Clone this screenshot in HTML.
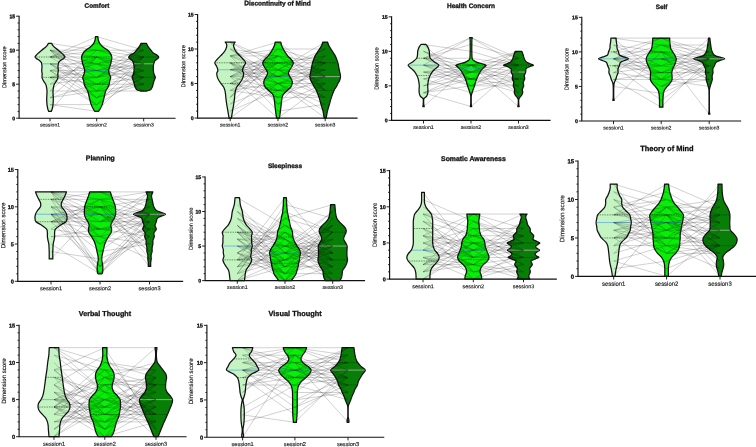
<!DOCTYPE html>
<html lang="en">
<head>
<meta charset="utf-8">
<title>Dimension scores by session</title>
<style>
html,body{margin:0;padding:0;background:#fff;}
body{width:756px;height:447px;overflow:hidden;font-family:"Liberation Sans",sans-serif;}
svg{display:block;}
.b{font-weight:bold;stroke:#111;stroke-width:.3px;}
.r{fill:#111;stroke:#111;stroke-width:.13px;}
</style>
</head>
<body>
<svg width="756" height="447" viewBox="0 0 756 447" font-family="'Liberation Sans', sans-serif" fill="#111">
<rect width="756" height="447" fill="#fff"/>
<g>
<path d="M48.8 111.4C48.65 111.06 48.2 110.49 47.9 109.36C47.6 108.23 47.2 106.19 47 104.6C46.8 103.01 46.72 101.54 46.7 99.84C46.68 98.14 46.85 95.87 46.9 94.4C46.95 92.93 47.05 92.13 47 91C46.95 89.87 46.82 88.73 46.6 87.6C46.38 86.47 46.23 85.33 45.7 84.2C45.17 83.07 44.02 81.93 43.4 80.8C42.78 79.67 42.2 78.53 42 77.4C41.8 76.27 42.25 75.13 42.2 74C42.15 72.87 41.73 71.73 41.7 70.6C41.67 69.47 42 68.33 42 67.2C42 66.07 41.85 64.65 41.7 63.8C41.55 62.95 41.48 62.67 41.1 62.1C40.72 61.53 40.13 60.97 39.4 60.4C38.67 59.83 37.43 59.27 36.7 58.7C35.97 58.13 35.08 57.57 35 57C34.92 56.43 35.73 55.87 36.2 55.3C36.67 54.73 36.88 54.45 37.8 53.6C38.72 52.75 40.47 51.22 41.7 50.2C42.93 49.18 44.25 48.33 45.2 47.48C46.15 46.63 46.9 45.78 47.4 45.1C47.9 44.42 48.07 43.68 48.2 43.4L51.8 43.4C51.93 43.68 52.1 44.42 52.6 45.1C53.1 45.78 53.85 46.63 54.8 47.48C55.75 48.33 57.07 49.18 58.3 50.2C59.53 51.22 61.28 52.75 62.2 53.6C63.12 54.45 63.33 54.73 63.8 55.3C64.27 55.87 65.08 56.43 65 57C64.92 57.57 64.03 58.13 63.3 58.7C62.57 59.27 61.33 59.83 60.6 60.4C59.87 60.97 59.28 61.53 58.9 62.1C58.52 62.67 58.45 62.95 58.3 63.8C58.15 64.65 58 66.07 58 67.2C58 68.33 58.33 69.47 58.3 70.6C58.27 71.73 57.85 72.87 57.8 74C57.75 75.13 58.2 76.27 58 77.4C57.8 78.53 57.22 79.67 56.6 80.8C55.98 81.93 54.83 83.07 54.3 84.2C53.77 85.33 53.62 86.47 53.4 87.6C53.18 88.73 53.05 89.87 53 91C52.95 92.13 53.05 92.93 53.1 94.4C53.15 95.87 53.32 98.14 53.3 99.84C53.28 101.54 53.2 103.01 53 104.6C52.8 106.19 52.4 108.23 52.1 109.36C51.8 110.49 51.35 111.06 51.2 111.4Z" fill="#c3f4c1" stroke="#111" stroke-width="1.25" stroke-linejoin="round"/>
<path d="M94.9 111.4C94.7 111.12 94.32 110.83 93.7 109.7C93.08 108.57 91.92 106.58 91.2 104.6C90.48 102.62 89.98 100.07 89.4 97.8C88.82 95.53 88.32 92.7 87.7 91C87.08 89.3 86.28 88.73 85.7 87.6C85.12 86.47 84.53 85.33 84.2 84.2C83.87 83.07 83.95 81.93 83.7 80.8C83.45 79.67 82.63 78.53 82.7 77.4C82.77 76.27 83.77 75.13 84.1 74C84.43 72.87 84.73 71.73 84.7 70.6C84.67 69.47 84.23 68.33 83.9 67.2C83.57 66.07 83.02 64.93 82.7 63.8C82.38 62.67 82.18 61.53 82 60.4C81.82 59.27 81.45 58.13 81.6 57C81.75 55.87 82.22 54.73 82.9 53.6C83.58 52.47 84.4 51.33 85.7 50.2C87 49.07 89.37 47.93 90.7 46.8C92.03 45.67 92.97 44.53 93.7 43.4C94.43 42.27 94.8 41.13 95.1 40C95.4 38.87 95.43 37.17 95.5 36.6L97.9 36.6C97.97 37.17 98 38.87 98.3 40C98.6 41.13 98.97 42.27 99.7 43.4C100.43 44.53 101.37 45.67 102.7 46.8C104.03 47.93 106.4 49.07 107.7 50.2C109 51.33 109.82 52.47 110.5 53.6C111.18 54.73 111.65 55.87 111.8 57C111.95 58.13 111.58 59.27 111.4 60.4C111.22 61.53 111.02 62.67 110.7 63.8C110.38 64.93 109.83 66.07 109.5 67.2C109.17 68.33 108.73 69.47 108.7 70.6C108.67 71.73 108.97 72.87 109.3 74C109.63 75.13 110.63 76.27 110.7 77.4C110.77 78.53 109.95 79.67 109.7 80.8C109.45 81.93 109.53 83.07 109.2 84.2C108.87 85.33 108.28 86.47 107.7 87.6C107.12 88.73 106.32 89.3 105.7 91C105.08 92.7 104.58 95.53 104 97.8C103.42 100.07 102.92 102.62 102.2 104.6C101.48 106.58 100.32 108.57 99.7 109.7C99.08 110.83 98.7 111.12 98.5 111.4Z" fill="#08ee08" stroke="#111" stroke-width="1.25" stroke-linejoin="round"/>
<path d="M140.5 91C139.9 90.77 137.8 90.32 136.9 89.64C136 88.96 135.53 87.83 135.1 86.92C134.67 86.01 134.58 85.22 134.3 84.2C134.02 83.18 133.77 81.93 133.4 80.8C133.03 79.67 132.08 78.53 132.1 77.4C132.12 76.27 133.18 75.13 133.5 74C133.82 72.87 133.9 71.73 134 70.6C134.1 69.47 134.15 68.33 134.1 67.2C134.05 66.07 134.02 64.93 133.7 63.8C133.38 62.67 132.93 61.31 132.2 60.4C131.47 59.49 129.88 58.93 129.3 58.36C128.72 57.79 128.5 57.57 128.7 57C128.9 56.43 129.6 55.64 130.5 54.96C131.4 54.28 133.1 53.71 134.1 52.92C135.1 52.13 135.67 51.22 136.5 50.2C137.33 49.18 138.43 47.76 139.1 46.8C139.77 45.84 140.2 44.99 140.5 44.42C140.8 43.85 140.83 43.57 140.9 43.4L146.5 43.4C146.57 43.57 146.6 43.85 146.9 44.42C147.2 44.99 147.63 45.84 148.3 46.8C148.97 47.76 150.07 49.18 150.9 50.2C151.73 51.22 152.3 52.13 153.3 52.92C154.3 53.71 156 54.28 156.9 54.96C157.8 55.64 158.5 56.43 158.7 57C158.9 57.57 158.68 57.79 158.1 58.36C157.52 58.93 155.93 59.49 155.2 60.4C154.47 61.31 154.02 62.67 153.7 63.8C153.38 64.93 153.35 66.07 153.3 67.2C153.25 68.33 153.3 69.47 153.4 70.6C153.5 71.73 153.58 72.87 153.9 74C154.22 75.13 155.28 76.27 155.3 77.4C155.32 78.53 154.37 79.67 154 80.8C153.63 81.93 153.38 83.18 153.1 84.2C152.82 85.22 152.73 86.01 152.3 86.92C151.87 87.83 151.4 88.96 150.5 89.64C149.6 90.32 147.5 90.77 146.9 91Z" fill="#077f07" stroke="#111" stroke-width="1.25" stroke-linejoin="round"/>
<line x1="42.8" y1="77.4" x2="57.2" y2="77.4" stroke="#061406" stroke-width="0.6" stroke-dasharray="0.8 0.9"/>
<line x1="35.8" y1="57" x2="64.2" y2="57" stroke="#061406" stroke-width="0.6" stroke-dasharray="0.8 0.9"/>
<line x1="42.3" y1="63.8" x2="57.7" y2="63.8" stroke="#4d9fe0" stroke-width="0.65"/>
<line x1="85" y1="84.2" x2="108.4" y2="84.2" stroke="#061406" stroke-width="0.6" stroke-dasharray="0.8 0.9"/>
<line x1="82.4" y1="57" x2="111" y2="57" stroke="#061406" stroke-width="0.6" stroke-dasharray="0.8 0.9"/>
<line x1="85.3" y1="70.6" x2="108.1" y2="70.6" stroke="#35a8c0" stroke-width="0.65"/>
<line x1="132.9" y1="77.4" x2="154.5" y2="77.4" stroke="#061406" stroke-width="0.6" stroke-dasharray="0.8 0.9"/>
<line x1="129.5" y1="57" x2="157.9" y2="57" stroke="#061406" stroke-width="0.6" stroke-dasharray="0.8 0.9"/>
<line x1="134.3" y1="63.8" x2="153.1" y2="63.8" stroke="#b0b6b0" stroke-width="0.8"/>
<path d="M50 63.8L96.7 70.6M96.7 70.6L143.7 63.8M50 70.6L96.7 57M96.7 57L143.7 77.4M50 84.2L96.7 77.4M96.7 77.4L143.7 43.4M50 57L96.7 57M96.7 57L143.7 63.8M50 63.8L96.7 97.8M96.7 97.8L143.7 77.4M50 57L96.7 84.2M96.7 84.2L143.7 70.6M50 43.4L96.7 50.2M96.7 50.2L143.7 63.8M50 63.8L96.7 91M96.7 91L143.7 91M50 84.2L96.7 57M50 57L96.7 50.2M96.7 50.2L143.7 57M50 77.4L96.7 84.2M96.7 84.2L143.7 84.2M50 77.4L96.7 104.6M96.7 104.6L143.7 77.4M50 77.4L96.7 77.4M96.7 77.4L143.7 57M50 70.6L96.7 77.4M96.7 77.4L143.7 50.2M96.7 57L143.7 84.2M50 104.6L96.7 104.6M50 97.8L96.7 57M50 70.6L96.7 104.6M96.7 104.6L143.7 57M50 50.2L96.7 97.8M96.7 97.8L143.7 57M50 57L96.7 63.8M96.7 63.8L143.7 91M50 91L96.7 50.2M96.7 50.2L143.7 50.2M50 111.4L96.7 57M50 63.8L96.7 63.8M96.7 63.8L143.7 57M50 77.4L96.7 70.6M96.7 70.6L143.7 84.2M96.7 77.4L143.7 70.6M50 50.2L96.7 50.2M50 50.2L96.7 77.4M96.7 77.4L143.7 63.8M50 70.6L96.7 70.6M96.7 70.6L143.7 57M50 63.8L96.7 84.2M50 50.2L96.7 57M96.7 57L143.7 70.6M96.7 63.8L143.7 50.2M50 57L96.7 36.6M96.7 36.6L143.7 50.2M96.7 63.8L143.7 70.6M50 91L96.7 91M96.7 91L143.7 43.4M50 50.2L96.7 91M96.7 91L143.7 84.2M96.7 84.2L143.7 57M50 97.8L96.7 91M96.7 91L143.7 70.6M50 77.4L96.7 63.8M50 57L96.7 43.4M96.7 43.4L143.7 57M50 104.6L96.7 111.4M96.7 111.4L143.7 63.8M50 70.6L96.7 97.8M96.7 97.8L143.7 84.2M50 50.2L96.7 63.8M96.7 63.8L143.7 77.4M50 97.8L96.7 84.2M50 50.2L96.7 70.6M96.7 70.6L143.7 77.4M96.7 84.2L143.7 77.4" fill="none" stroke="#000" stroke-opacity="0.62" stroke-width="0.3"/>
<path d="M19.1 16.2V118.2H175" fill="none" stroke="#111" stroke-width="1.15" stroke-linecap="square"/>
<path d="M19.1 118.2h-3M19.1 111.4h-1.5M19.1 104.6h-1.5M19.1 97.8h-1.5M19.1 91h-1.5M19.1 84.2h-3M19.1 77.4h-1.5M19.1 70.6h-1.5M19.1 63.8h-1.5M19.1 57h-1.5M19.1 50.2h-3M19.1 43.4h-1.5M19.1 36.6h-1.5M19.1 29.8h-1.5M19.1 23h-1.5M19.1 16.2h-3M50 118.2v3.15M96.7 118.2v3.15M143.7 118.2v3.15" fill="none" stroke="#111" stroke-width="0.92"/>
<text transform="translate(15.2 120.18) rotate(.05)" font-size="5.11" class="b" text-anchor="end">0</text>
<text transform="translate(15.2 86.18) rotate(.05)" font-size="5.11" class="b" text-anchor="end">5</text>
<text transform="translate(15.2 52.18) rotate(.05)" font-size="5.11" class="b" text-anchor="end">10</text>
<text transform="translate(15.2 18.18) rotate(.05)" font-size="5.11" class="b" text-anchor="end">15</text>
<text transform="translate(6.32 67.2) rotate(-89.95)" font-size="5.61" text-anchor="middle" class="r">Dimension score</text>
<text transform="translate(50 126.44) rotate(.05)" font-size="5.11" text-anchor="middle" class="r">session1</text>
<text transform="translate(96.7 126.44) rotate(.05)" font-size="5.11" text-anchor="middle" class="r">session2</text>
<text transform="translate(143.7 126.44) rotate(.05)" font-size="5.11" text-anchor="middle" class="r">session3</text>
<text transform="translate(97 7.8) rotate(.05)" font-size="6.4" class="b" text-anchor="middle">Comfort</text>
</g>
<g>
<path d="M229 118.05C228.82 116.9 228.28 113.45 227.9 111.14C227.52 108.84 227.05 106.54 226.7 104.24C226.35 101.94 226 99.06 225.8 97.33C225.6 95.61 225.65 95.03 225.5 93.88C225.35 92.73 225.22 91.58 224.9 90.43C224.58 89.28 224.25 88.13 223.6 86.98C222.95 85.83 221.83 84.68 221 83.53C220.17 82.37 219.23 81.22 218.6 80.07C217.97 78.92 217.5 77.77 217.2 76.62C216.9 75.47 216.68 74.2 216.8 73.17C216.92 72.13 217.93 71.56 217.9 70.41C217.87 69.25 217.12 67.53 216.6 66.26C216.08 65 214.7 63.96 214.8 62.81C214.9 61.66 216.25 60.51 217.2 59.36C218.15 58.21 219.4 57.06 220.5 55.9C221.6 54.75 222.9 53.6 223.8 52.45C224.7 51.3 225.4 50.15 225.9 49C226.4 47.85 226.75 46.47 226.8 45.55C226.85 44.63 226.47 44.05 226.2 43.48C225.93 42.9 225.37 42.33 225.2 42.09L235.2 42.09C235.03 42.33 234.47 42.9 234.2 43.48C233.93 44.05 233.55 44.63 233.6 45.55C233.65 46.47 234 47.85 234.5 49C235 50.15 235.7 51.3 236.6 52.45C237.5 53.6 238.8 54.75 239.9 55.9C241 57.06 242.25 58.21 243.2 59.36C244.15 60.51 245.5 61.66 245.6 62.81C245.7 63.96 244.32 65 243.8 66.26C243.28 67.53 242.53 69.25 242.5 70.41C242.47 71.56 243.48 72.13 243.6 73.17C243.72 74.2 243.5 75.47 243.2 76.62C242.9 77.77 242.43 78.92 241.8 80.07C241.17 81.22 240.23 82.37 239.4 83.53C238.57 84.68 237.45 85.83 236.8 86.98C236.15 88.13 235.82 89.28 235.5 90.43C235.18 91.58 235.05 92.73 234.9 93.88C234.75 95.03 234.8 95.61 234.6 97.33C234.4 99.06 234.05 101.94 233.7 104.24C233.35 106.54 232.88 108.84 232.5 111.14C232.12 113.45 231.58 116.9 231.4 118.05Z" fill="#c3f4c1" stroke="#111" stroke-width="1.25" stroke-linejoin="round"/>
<path d="M276.6 118.05C276.43 116.9 275.9 113.45 275.6 111.14C275.3 108.84 275.08 106.54 274.8 104.24C274.52 101.94 274.3 99.06 273.9 97.33C273.5 95.61 273.28 95.03 272.4 93.88C271.52 92.73 269.8 91.58 268.6 90.43C267.4 89.28 266 88.13 265.2 86.98C264.4 85.83 263.97 84.68 263.8 83.53C263.63 82.37 263.8 81.22 264.2 80.07C264.6 78.92 265.63 77.77 266.2 76.62C266.77 75.47 267.6 74.32 267.6 73.17C267.6 72.02 266.8 70.87 266.2 69.72C265.6 68.56 264.58 67.41 264 66.26C263.42 65.11 262.57 63.96 262.7 62.81C262.83 61.66 263.87 60.51 264.8 59.36C265.73 58.21 267.3 57.06 268.3 55.9C269.3 54.75 270.05 53.6 270.8 52.45C271.55 51.3 272.2 50.15 272.8 49C273.4 47.85 274 46.7 274.4 45.55C274.8 44.4 275.07 42.67 275.2 42.09L280.8 42.09C280.93 42.67 281.2 44.4 281.6 45.55C282 46.7 282.6 47.85 283.2 49C283.8 50.15 284.45 51.3 285.2 52.45C285.95 53.6 286.7 54.75 287.7 55.9C288.7 57.06 290.27 58.21 291.2 59.36C292.13 60.51 293.17 61.66 293.3 62.81C293.43 63.96 292.58 65.11 292 66.26C291.42 67.41 290.4 68.56 289.8 69.72C289.2 70.87 288.4 72.02 288.4 73.17C288.4 74.32 289.23 75.47 289.8 76.62C290.37 77.77 291.4 78.92 291.8 80.07C292.2 81.22 292.37 82.37 292.2 83.53C292.03 84.68 291.6 85.83 290.8 86.98C290 88.13 288.6 89.28 287.4 90.43C286.2 91.58 284.48 92.73 283.6 93.88C282.72 95.03 282.5 95.61 282.1 97.33C281.7 99.06 281.48 101.94 281.2 104.24C280.92 106.54 280.7 108.84 280.4 111.14C280.1 113.45 279.57 116.9 279.4 118.05Z" fill="#08ee08" stroke="#111" stroke-width="1.25" stroke-linejoin="round"/>
<path d="M324.2 118.05C324 116.9 323.53 113.45 323 111.14C322.47 108.84 321.67 106.54 321 104.24C320.33 101.94 319.77 99.64 319 97.33C318.23 95.03 317.2 92.16 316.4 90.43C315.6 88.7 314.85 88.13 314.2 86.98C313.55 85.83 313.1 84.68 312.5 83.53C311.9 82.37 311.03 81.22 310.6 80.07C310.17 78.92 309.93 77.77 309.9 76.62C309.87 75.47 310.18 74.32 310.4 73.17C310.62 72.02 310.97 70.87 311.2 69.72C311.43 68.56 311.58 67.41 311.8 66.26C312.02 65.11 312.18 63.96 312.5 62.81C312.82 61.66 313.25 60.51 313.7 59.36C314.15 58.21 314.58 57.06 315.2 55.9C315.82 54.75 316.68 53.6 317.4 52.45C318.12 51.3 318.8 50.15 319.5 49C320.2 47.85 321.03 46.7 321.6 45.55C322.17 44.4 322.68 42.67 322.9 42.09L327.5 42.09C327.72 42.67 328.23 44.4 328.8 45.55C329.37 46.7 330.2 47.85 330.9 49C331.6 50.15 332.28 51.3 333 52.45C333.72 53.6 334.58 54.75 335.2 55.9C335.82 57.06 336.25 58.21 336.7 59.36C337.15 60.51 337.58 61.66 337.9 62.81C338.22 63.96 338.38 65.11 338.6 66.26C338.82 67.41 338.97 68.56 339.2 69.72C339.43 70.87 339.78 72.02 340 73.17C340.22 74.32 340.53 75.47 340.5 76.62C340.47 77.77 340.23 78.92 339.8 80.07C339.37 81.22 338.5 82.37 337.9 83.53C337.3 84.68 336.85 85.83 336.2 86.98C335.55 88.13 334.8 88.7 334 90.43C333.2 92.16 332.17 95.03 331.4 97.33C330.63 99.64 330.07 101.94 329.4 104.24C328.73 106.54 327.93 108.84 327.4 111.14C326.87 113.45 326.4 116.9 326.2 118.05Z" fill="#077f07" stroke="#111" stroke-width="1.25" stroke-linejoin="round"/>
<line x1="221.8" y1="83.53" x2="238.6" y2="83.53" stroke="#061406" stroke-width="0.6" stroke-dasharray="0.8 0.9"/>
<line x1="215.6" y1="62.81" x2="244.8" y2="62.81" stroke="#061406" stroke-width="0.6" stroke-dasharray="0.8 0.9"/>
<line x1="218.28" y1="69.72" x2="242.12" y2="69.72" stroke="#4d9fe0" stroke-width="0.65"/>
<line x1="269.4" y1="90.43" x2="286.6" y2="90.43" stroke="#061406" stroke-width="0.6" stroke-dasharray="0.8 0.9"/>
<line x1="263.5" y1="62.81" x2="292.5" y2="62.81" stroke="#061406" stroke-width="0.6" stroke-dasharray="0.8 0.9"/>
<line x1="266.8" y1="76.62" x2="289.2" y2="76.62" stroke="#35a8c0" stroke-width="0.65"/>
<line x1="317.2" y1="90.43" x2="333.2" y2="90.43" stroke="#061406" stroke-width="0.6" stroke-dasharray="0.8 0.9"/>
<line x1="313.3" y1="62.81" x2="337.1" y2="62.81" stroke="#061406" stroke-width="0.6" stroke-dasharray="0.8 0.9"/>
<line x1="310.5" y1="76.62" x2="339.9" y2="76.62" stroke="#b0b6b0" stroke-width="0.8"/>
<path d="M230.2 55.9L278 104.24M278 104.24L325.2 83.53M230.2 69.72L278 76.62M278 76.62L325.2 62.81M230.2 69.72L278 83.53M278 83.53L325.2 62.81M230.2 90.43L278 83.53M278 83.53L325.2 118.05M230.2 69.72L278 55.9M278 55.9L325.2 62.81M230.2 83.53L278 90.43M278 90.43L325.2 97.33M230.2 76.62L278 49M278 49L325.2 62.81M230.2 90.43L278 97.33M278 97.33L325.2 97.33M278 90.43L325.2 69.72M230.2 76.62L278 62.81M278 62.81L325.2 55.9M230.2 49L278 55.9M278 55.9L325.2 76.62M230.2 104.24L278 55.9M230.2 104.24L278 83.53M278 83.53L325.2 76.62M230.2 69.72L278 62.81M278 62.81L325.2 69.72M230.2 42.09L278 69.72M278 69.72L325.2 76.62M230.2 62.81L278 62.81M230.2 111.14L278 90.43M230.2 118.05L278 83.53M278 83.53L325.2 83.53M230.2 69.72L278 69.72M278 69.72L325.2 42.09M230.2 83.53L278 76.62M278 76.62L325.2 97.33M230.2 83.53L278 62.81M278 62.81L325.2 62.81M278 62.81L325.2 83.53M230.2 55.9L278 42.09M278 42.09L325.2 76.62M230.2 76.62L278 69.72M278 69.72L325.2 69.72M230.2 62.81L278 83.53M278 83.53L325.2 69.72M230.2 49L278 83.53M278 83.53L325.2 104.24M230.2 55.9L278 55.9M278 55.9L325.2 90.43M230.2 62.81L278 76.62M230.2 97.33L278 49M278 49L325.2 90.43M230.2 62.81L278 111.14M278 111.14L325.2 104.24M230.2 62.81L278 97.33M278 97.33L325.2 62.81M230.2 97.33L278 62.81M278 69.72L325.2 90.43M230.2 62.81L278 90.43M278 90.43L325.2 83.53M230.2 111.14L278 69.72M278 69.72L325.2 97.33M230.2 76.62L278 76.62M278 76.62L325.2 69.72M230.2 49L278 76.62M278 76.62L325.2 49M230.2 97.33L278 42.09M278 42.09L325.2 90.43M230.2 42.09L278 62.81M230.2 76.62L278 90.43M278 83.53L325.2 111.14M230.2 55.9L278 69.72M278 69.72L325.2 49M230.2 76.62L278 118.05M278 118.05L325.2 83.53M230.2 83.53L278 55.9M230.2 83.53L278 97.33M278 97.33L325.2 76.62M230.2 55.9L278 76.62M278 76.62L325.2 55.9M230.2 76.62L278 55.9M230.2 90.43L278 62.81M230.2 55.9L278 49M278 49L325.2 49M230.2 42.09L278 104.24M278 104.24L325.2 55.9M278 76.62L325.2 76.62" fill="none" stroke="#000" stroke-opacity="0.62" stroke-width="0.3"/>
<path d="M197.6 14.47V118.05H357" fill="none" stroke="#111" stroke-width="1.15" stroke-linecap="square"/>
<path d="M197.6 118.05h-3M197.6 111.14h-1.5M197.6 104.24h-1.5M197.6 97.33h-1.5M197.6 90.43h-1.5M197.6 83.53h-3M197.6 76.62h-1.5M197.6 69.72h-1.5M197.6 62.81h-1.5M197.6 55.9h-1.5M197.6 49h-3M197.6 42.09h-1.5M197.6 35.19h-1.5M197.6 28.28h-1.5M197.6 21.38h-1.5M197.6 14.47h-3M230.2 118.05v3.15M278 118.05v3.15M325.2 118.05v3.15" fill="none" stroke="#111" stroke-width="0.92"/>
<text transform="translate(193.7 120.06) rotate(.05)" font-size="5.19" class="b" text-anchor="end">0</text>
<text transform="translate(193.7 85.53) rotate(.05)" font-size="5.19" class="b" text-anchor="end">5</text>
<text transform="translate(193.7 51.01) rotate(.05)" font-size="5.19" class="b" text-anchor="end">10</text>
<text transform="translate(193.7 16.48) rotate(.05)" font-size="5.19" class="b" text-anchor="end">15</text>
<text transform="translate(185.15 66.26) rotate(-89.95)" font-size="5.7" text-anchor="middle" class="r">Dimension score</text>
<text transform="translate(230.2 126.47) rotate(.05)" font-size="5.19" text-anchor="middle" class="r">session1</text>
<text transform="translate(278 126.47) rotate(.05)" font-size="5.19" text-anchor="middle" class="r">session2</text>
<text transform="translate(325.2 126.47) rotate(.05)" font-size="5.19" text-anchor="middle" class="r">session3</text>
<text transform="translate(277.5 5.4) rotate(.05)" font-size="6.55" class="b" text-anchor="middle">Discontinuity of Mind</text>
</g>
<g>
<path d="M422.8 106.55C422.87 106.2 423.12 105.63 423.2 104.48C423.28 103.33 423.38 100.68 423.3 99.65C423.22 98.61 423.2 98.84 422.7 98.27C422.2 97.69 420.88 97.12 420.3 96.2C419.72 95.28 419.4 93.9 419.2 92.75C419 91.6 419.08 90.45 419.1 89.3C419.12 88.15 419.33 87 419.3 85.85C419.27 84.7 419.08 83.55 418.9 82.4C418.72 81.25 418.53 80.1 418.2 78.95C417.87 77.8 417.45 76.65 416.9 75.5C416.35 74.35 415.8 73.2 414.9 72.05C414 70.9 412.63 69.75 411.5 68.6C410.37 67.45 407.85 66.3 408.1 65.15C408.35 64 411.57 62.85 413 61.7C414.43 60.55 415.95 59.4 416.7 58.25C417.45 57.1 417.33 55.95 417.5 54.8C417.67 53.65 417.5 52.5 417.7 51.35C417.9 50.2 418.3 48.88 418.7 47.9C419.1 46.92 419.7 46.06 420.1 45.48C420.5 44.91 420.93 44.62 421.1 44.45L425.9 44.45C426.07 44.62 426.5 44.91 426.9 45.48C427.3 46.06 427.9 46.92 428.3 47.9C428.7 48.88 429.1 50.2 429.3 51.35C429.5 52.5 429.33 53.65 429.5 54.8C429.67 55.95 429.55 57.1 430.3 58.25C431.05 59.4 432.57 60.55 434 61.7C435.43 62.85 438.65 64 438.9 65.15C439.15 66.3 436.63 67.45 435.5 68.6C434.37 69.75 433 70.9 432.1 72.05C431.2 73.2 430.65 74.35 430.1 75.5C429.55 76.65 429.13 77.8 428.8 78.95C428.47 80.1 428.28 81.25 428.1 82.4C427.92 83.55 427.73 84.7 427.7 85.85C427.67 87 427.88 88.15 427.9 89.3C427.92 90.45 428 91.6 427.8 92.75C427.6 93.9 427.28 95.28 426.7 96.2C426.12 97.12 424.8 97.69 424.3 98.27C423.8 98.84 423.78 98.61 423.7 99.65C423.62 100.68 423.72 103.33 423.8 104.48C423.88 105.63 424.13 106.2 424.2 106.55Z" fill="#c3f4c1" stroke="#111" stroke-width="1.25" stroke-linejoin="round"/>
<path d="M470.3 106.55C470.37 106.2 470.62 105.63 470.7 104.48C470.78 103.33 470.8 101.14 470.8 99.65C470.8 98.15 470.85 96.66 470.7 95.51C470.55 94.36 470.22 93.78 469.9 92.75C469.58 91.72 469.2 90.45 468.8 89.3C468.4 88.15 467.87 87 467.5 85.85C467.13 84.7 466.95 83.55 466.6 82.4C466.25 81.25 465.87 80.1 465.4 78.95C464.93 77.8 464.37 76.65 463.8 75.5C463.23 74.35 462.73 73.2 462 72.05C461.27 70.9 460.23 69.52 459.4 68.6C458.57 67.68 457.57 67.11 457 66.53C456.43 65.95 455.5 65.61 456 65.15C456.5 64.69 458.5 64.23 460 63.77C461.5 63.31 463.57 62.96 465 62.39C466.43 61.81 467.78 61.01 468.6 60.32C469.42 59.63 469.63 59.74 469.9 58.25C470.17 56.75 470.15 53.65 470.2 51.35C470.25 49.05 470.22 46.4 470.2 44.45C470.18 42.49 470.18 40.77 470.1 39.62C470.02 38.47 469.77 37.89 469.7 37.55L472.3 37.55C472.23 37.89 471.98 38.47 471.9 39.62C471.82 40.77 471.82 42.49 471.8 44.45C471.78 46.4 471.75 49.05 471.8 51.35C471.85 53.65 471.83 56.75 472.1 58.25C472.37 59.74 472.58 59.63 473.4 60.32C474.22 61.01 475.57 61.81 477 62.39C478.43 62.96 480.5 63.31 482 63.77C483.5 64.23 485.5 64.69 486 65.15C486.5 65.61 485.57 65.95 485 66.53C484.43 67.11 483.43 67.68 482.6 68.6C481.77 69.52 480.73 70.9 480 72.05C479.27 73.2 478.77 74.35 478.2 75.5C477.63 76.65 477.07 77.8 476.6 78.95C476.13 80.1 475.75 81.25 475.4 82.4C475.05 83.55 474.87 84.7 474.5 85.85C474.13 87 473.6 88.15 473.2 89.3C472.8 90.45 472.42 91.72 472.1 92.75C471.78 93.78 471.45 94.36 471.3 95.51C471.15 96.66 471.2 98.15 471.2 99.65C471.2 101.14 471.22 103.33 471.3 104.48C471.38 105.63 471.63 106.2 471.7 106.55Z" fill="#08ee08" stroke="#111" stroke-width="1.25" stroke-linejoin="round"/>
<path d="M517.8 106.55C517.87 106.2 518.12 105.63 518.2 104.48C518.28 103.33 518.4 100.8 518.25 99.65C518.1 98.5 517.76 98.27 517.3 97.58C516.84 96.89 516 96.31 515.5 95.51C515 94.7 514.43 93.78 514.3 92.75C514.17 91.72 514.87 90.45 514.7 89.3C514.53 88.15 513.45 87 513.3 85.85C513.15 84.7 513.97 83.55 513.8 82.4C513.63 81.25 512.48 80.1 512.3 78.95C512.12 77.8 512.87 76.65 512.7 75.5C512.53 74.35 511.6 73.2 511.3 72.05C511 70.9 511.62 69.52 510.9 68.6C510.18 67.68 508.23 67.11 507 66.53C505.77 65.95 503.5 65.61 503.5 65.15C503.5 64.69 505.77 64.34 507 63.77C508.23 63.19 509.92 62.62 510.9 61.7C511.88 60.78 512.4 59.4 512.9 58.25C513.4 57.1 513.53 55.95 513.9 54.8C514.27 53.65 514.9 51.92 515.1 51.35L521.9 51.35C522.1 51.92 522.73 53.65 523.1 54.8C523.47 55.95 523.6 57.1 524.1 58.25C524.6 59.4 525.12 60.78 526.1 61.7C527.08 62.62 528.77 63.19 530 63.77C531.23 64.34 533.5 64.69 533.5 65.15C533.5 65.61 531.23 65.95 530 66.53C528.77 67.11 526.82 67.68 526.1 68.6C525.38 69.52 526 70.9 525.7 72.05C525.4 73.2 524.47 74.35 524.3 75.5C524.13 76.65 524.88 77.8 524.7 78.95C524.52 80.1 523.37 81.25 523.2 82.4C523.03 83.55 523.85 84.7 523.7 85.85C523.55 87 522.47 88.15 522.3 89.3C522.13 90.45 522.83 91.72 522.7 92.75C522.57 93.78 522 94.7 521.5 95.51C521 96.31 520.16 96.89 519.7 97.58C519.24 98.27 518.9 98.5 518.75 99.65C518.6 100.8 518.72 103.33 518.8 104.48C518.88 105.63 519.13 106.2 519.2 106.55Z" fill="#077f07" stroke="#111" stroke-width="1.25" stroke-linejoin="round"/>
<line x1="417.7" y1="75.5" x2="429.3" y2="75.5" stroke="#061406" stroke-width="0.6" stroke-dasharray="0.8 0.9"/>
<line x1="417.5" y1="58.25" x2="429.5" y2="58.25" stroke="#061406" stroke-width="0.6" stroke-dasharray="0.8 0.9"/>
<line x1="408.7" y1="65.15" x2="438.3" y2="65.15" stroke="#4d9fe0" stroke-width="0.65"/>
<line x1="466.2" y1="78.95" x2="475.8" y2="78.95" stroke="#061406" stroke-width="0.6" stroke-dasharray="0.8 0.9"/>
<line x1="456.8" y1="65.15" x2="485.2" y2="65.15" stroke="#061406" stroke-width="0.6" stroke-dasharray="0.8 0.9"/>
<line x1="460" y1="68.6" x2="482" y2="68.6" stroke="#35a8c0" stroke-width="0.65"/>
<line x1="513.1" y1="78.95" x2="523.9" y2="78.95" stroke="#061406" stroke-width="0.6" stroke-dasharray="0.8 0.9"/>
<line x1="504.3" y1="65.15" x2="532.7" y2="65.15" stroke="#061406" stroke-width="0.6" stroke-dasharray="0.8 0.9"/>
<line x1="511.9" y1="72.05" x2="525.1" y2="72.05" stroke="#b0b6b0" stroke-width="0.8"/>
<path d="M423.5 65.15L471 72.05M471 72.05L518.5 65.15M423.5 65.15L471 65.15M471 65.15L518.5 72.05M423.5 85.85L471 72.05M471 72.05L518.5 51.35M471 65.15L518.5 65.15M423.5 65.15L471 85.85M471 85.85L518.5 78.95M423.5 58.25L471 78.95M471 78.95L518.5 72.05M423.5 44.45L471 51.35M471 51.35L518.5 65.15M423.5 65.15L471 78.95M471 78.95L518.5 92.75M423.5 78.95L471 65.15M423.5 58.25L471 44.45M471 44.45L518.5 58.25M423.5 72.05L471 78.95M471 78.95L518.5 85.85M423.5 78.95L471 92.75M471 92.75L518.5 78.95M423.5 78.95L471 72.05M471 72.05L518.5 58.25M423.5 72.05L471 72.05M423.5 58.25L471 65.15M471 65.15L518.5 92.75M423.5 92.75L471 85.85M423.5 85.85L471 65.15M471 65.15L518.5 78.95M423.5 72.05L471 85.85M471 85.85L518.5 65.15M423.5 44.45L471 85.85M471 85.85L518.5 58.25M471 65.15L518.5 106.55M471 65.15L518.5 58.25M423.5 106.55L471 65.15M423.5 72.05L471 65.15M471 65.15L518.5 85.85M471 72.05L518.5 72.05M423.5 51.35L471 65.15M471 65.15L518.5 51.35M423.5 51.35L471 72.05M423.5 65.15L471 37.55M471 37.55L518.5 58.25M423.5 85.85L471 78.95M471 78.95L518.5 51.35M423.5 51.35L471 78.95M423.5 58.25L471 72.05M423.5 58.25L471 58.25M471 58.25L518.5 65.15M423.5 92.75L471 78.95M423.5 58.25L471 37.55M471 37.55L518.5 65.15M423.5 92.75L471 106.55M471 106.55L518.5 65.15M471 85.85L518.5 85.85M423.5 92.75L471 72.05M471 72.05L518.5 78.95M471 78.95L518.5 78.95" fill="none" stroke="#000" stroke-opacity="0.62" stroke-width="0.3"/>
<path d="M391.6 16.85V120.35H550" fill="none" stroke="#111" stroke-width="1.15" stroke-linecap="square"/>
<path d="M391.6 120.35h-3M391.6 113.45h-1.5M391.6 106.55h-1.5M391.6 99.65h-1.5M391.6 92.75h-1.5M391.6 85.85h-3M391.6 78.95h-1.5M391.6 72.05h-1.5M391.6 65.15h-1.5M391.6 58.25h-1.5M391.6 51.35h-3M391.6 44.45h-1.5M391.6 37.55h-1.5M391.6 30.65h-1.5M391.6 23.75h-1.5M391.6 16.85h-3M423.5 120.35v3.15M471 120.35v3.15M518.5 120.35v3.15" fill="none" stroke="#111" stroke-width="0.92"/>
<text transform="translate(387.7 122.36) rotate(.05)" font-size="5.19" class="b" text-anchor="end">0</text>
<text transform="translate(387.7 87.86) rotate(.05)" font-size="5.19" class="b" text-anchor="end">5</text>
<text transform="translate(387.7 53.36) rotate(.05)" font-size="5.19" class="b" text-anchor="end">10</text>
<text transform="translate(387.7 18.86) rotate(.05)" font-size="5.19" class="b" text-anchor="end">15</text>
<text transform="translate(378.55 68.6) rotate(-89.95)" font-size="5.69" text-anchor="middle" class="r">Dimension score</text>
<text transform="translate(423.5 128.97) rotate(.05)" font-size="5.19" text-anchor="middle" class="r">session1</text>
<text transform="translate(471 128.97) rotate(.05)" font-size="5.19" text-anchor="middle" class="r">session2</text>
<text transform="translate(518.5 128.97) rotate(.05)" font-size="5.19" text-anchor="middle" class="r">session3</text>
<text transform="translate(471 8.1) rotate(.05)" font-size="6.52" class="b" text-anchor="middle">Health Concern</text>
</g>
<g>
<path d="M612.8 100.27C612.87 99.92 613.12 99.35 613.2 98.2C613.28 97.05 613.3 95.32 613.3 93.36C613.3 91.4 613.28 88.18 613.2 86.45C613.12 84.72 613.12 84.15 612.8 83C612.48 81.84 611.72 80.69 611.3 79.54C610.88 78.39 610.7 77.24 610.3 76.09C609.9 74.93 609.1 73.78 608.9 72.63C608.7 71.48 609.3 70.33 609.1 69.17C608.9 68.02 608.17 66.87 607.7 65.72C607.23 64.57 607.33 63.19 606.3 62.27C605.27 61.34 602.8 60.77 601.5 60.19C600.2 59.62 598.5 59.27 598.5 58.81C598.5 58.35 600.03 58 601.5 57.43C602.97 56.85 606.13 56.28 607.3 55.36C608.47 54.43 608.07 53.05 608.5 51.9C608.93 50.75 609.63 49.6 609.9 48.44C610.17 47.29 609.97 46.14 610.1 44.99C610.23 43.84 610.57 42.69 610.7 41.53C610.83 40.38 610.87 38.66 610.9 38.08L616.1 38.08C616.13 38.66 616.17 40.38 616.3 41.53C616.43 42.69 616.77 43.84 616.9 44.99C617.03 46.14 616.83 47.29 617.1 48.44C617.37 49.6 618.07 50.75 618.5 51.9C618.93 53.05 618.53 54.43 619.7 55.36C620.87 56.28 624.03 56.85 625.5 57.43C626.97 58 628.5 58.35 628.5 58.81C628.5 59.27 626.8 59.62 625.5 60.19C624.2 60.77 621.73 61.34 620.7 62.27C619.67 63.19 619.77 64.57 619.3 65.72C618.83 66.87 618.1 68.02 617.9 69.17C617.7 70.33 618.3 71.48 618.1 72.63C617.9 73.78 617.1 74.93 616.7 76.09C616.3 77.24 616.12 78.39 615.7 79.54C615.28 80.69 614.52 81.84 614.2 83C613.88 84.15 613.88 84.72 613.8 86.45C613.72 88.18 613.7 91.4 613.7 93.36C613.7 95.32 613.72 97.05 613.8 98.2C613.88 99.35 614.13 99.92 614.2 100.27Z" fill="#c3f4c1" stroke="#111" stroke-width="1.25" stroke-linejoin="round"/>
<path d="M659.5 107.18C659.5 106.03 659.58 102.57 659.5 100.27C659.42 97.97 659.27 95.09 659 93.36C658.73 91.63 658.53 91.06 657.9 89.91C657.27 88.75 656.15 87.6 655.2 86.45C654.25 85.3 653 84.15 652.2 83C651.4 81.84 650.7 80.69 650.4 79.54C650.1 78.39 650.37 77.24 650.4 76.09C650.43 74.93 650.7 73.78 650.6 72.63C650.5 71.48 650.2 70.33 649.8 69.17C649.4 68.02 648.7 66.87 648.2 65.72C647.7 64.57 647.13 63.42 646.8 62.27C646.47 61.11 646.08 59.96 646.2 58.81C646.32 57.66 646.92 56.51 647.5 55.36C648.08 54.2 649 53.05 649.7 51.9C650.4 50.75 651.28 49.6 651.7 48.44C652.12 47.29 652.03 46.14 652.2 44.99C652.37 43.84 652.62 42.69 652.7 41.53C652.78 40.38 652.7 38.66 652.7 38.08L669.7 38.08C669.7 38.66 669.62 40.38 669.7 41.53C669.78 42.69 670.03 43.84 670.2 44.99C670.37 46.14 670.28 47.29 670.7 48.44C671.12 49.6 672 50.75 672.7 51.9C673.4 53.05 674.32 54.2 674.9 55.36C675.48 56.51 676.08 57.66 676.2 58.81C676.32 59.96 675.93 61.11 675.6 62.27C675.27 63.42 674.7 64.57 674.2 65.72C673.7 66.87 673 68.02 672.6 69.17C672.2 70.33 671.9 71.48 671.8 72.63C671.7 73.78 671.97 74.93 672 76.09C672.03 77.24 672.3 78.39 672 79.54C671.7 80.69 671 81.84 670.2 83C669.4 84.15 668.15 85.3 667.2 86.45C666.25 87.6 665.13 88.75 664.5 89.91C663.87 91.06 663.67 91.63 663.4 93.36C663.13 95.09 662.98 97.97 662.9 100.27C662.82 102.57 662.9 106.03 662.9 107.18Z" fill="#08ee08" stroke="#111" stroke-width="1.25" stroke-linejoin="round"/>
<path d="M708.5 114.09C708.58 113.74 708.86 113.17 708.95 112.02C709.04 110.87 709.03 109.14 709.05 107.18C709.07 105.22 709.05 102.57 709.05 100.27C709.05 97.97 709.08 95.2 709.05 93.36C709.03 91.52 709.04 90.37 708.9 89.21C708.76 88.06 708.48 87.49 708.2 86.45C707.92 85.41 707.55 84.15 707.2 83C706.85 81.84 706.25 80.69 706.1 79.54C705.95 78.39 706.42 77.24 706.3 76.09C706.18 74.93 705.52 73.78 705.4 72.63C705.28 71.48 705.83 70.33 705.6 69.17C705.37 68.02 704.57 66.87 704 65.72C703.43 64.57 703.25 63.19 702.2 62.27C701.15 61.34 699.12 60.77 697.7 60.19C696.28 59.62 693.7 59.27 693.7 58.81C693.7 58.35 696.02 58 697.7 57.43C699.38 56.85 702.38 56.28 703.8 55.36C705.22 54.43 705.63 53.05 706.2 51.9C706.77 50.75 706.95 49.6 707.2 48.44C707.45 47.29 707.53 46.14 707.7 44.99C707.87 43.84 708.07 42.69 708.2 41.53C708.33 40.38 708.45 38.66 708.5 38.08L709.9 38.08C709.95 38.66 710.07 40.38 710.2 41.53C710.33 42.69 710.53 43.84 710.7 44.99C710.87 46.14 710.95 47.29 711.2 48.44C711.45 49.6 711.63 50.75 712.2 51.9C712.77 53.05 713.18 54.43 714.6 55.36C716.02 56.28 719.02 56.85 720.7 57.43C722.38 58 724.7 58.35 724.7 58.81C724.7 59.27 722.12 59.62 720.7 60.19C719.28 60.77 717.25 61.34 716.2 62.27C715.15 63.19 714.97 64.57 714.4 65.72C713.83 66.87 713.03 68.02 712.8 69.17C712.57 70.33 713.12 71.48 713 72.63C712.88 73.78 712.22 74.93 712.1 76.09C711.98 77.24 712.45 78.39 712.3 79.54C712.15 80.69 711.55 81.84 711.2 83C710.85 84.15 710.48 85.41 710.2 86.45C709.92 87.49 709.64 88.06 709.5 89.21C709.36 90.37 709.38 91.52 709.35 93.36C709.33 95.2 709.35 97.97 709.35 100.27C709.35 102.57 709.33 105.22 709.35 107.18C709.37 109.14 709.36 110.87 709.45 112.02C709.54 113.17 709.83 113.74 709.9 114.09Z" fill="#077f07" stroke="#111" stroke-width="1.25" stroke-linejoin="round"/>
<line x1="608.5" y1="65.72" x2="618.5" y2="65.72" stroke="#061406" stroke-width="0.6" stroke-dasharray="0.8 0.9"/>
<line x1="609.3" y1="51.9" x2="617.7" y2="51.9" stroke="#061406" stroke-width="0.6" stroke-dasharray="0.8 0.9"/>
<line x1="599.1" y1="58.81" x2="627.9" y2="58.81" stroke="#4d9fe0" stroke-width="0.65"/>
<line x1="651.4" y1="72.63" x2="671" y2="72.63" stroke="#061406" stroke-width="0.6" stroke-dasharray="0.8 0.9"/>
<line x1="650.5" y1="51.9" x2="671.9" y2="51.9" stroke="#061406" stroke-width="0.6" stroke-dasharray="0.8 0.9"/>
<line x1="646.8" y1="58.81" x2="675.6" y2="58.81" stroke="#35a8c0" stroke-width="0.65"/>
<line x1="704.8" y1="65.72" x2="713.6" y2="65.72" stroke="#061406" stroke-width="0.6" stroke-dasharray="0.8 0.9"/>
<line x1="704.6" y1="55.36" x2="713.8" y2="55.36" stroke="#061406" stroke-width="0.6" stroke-dasharray="0.8 0.9"/>
<line x1="694.3" y1="58.81" x2="724.1" y2="58.81" stroke="#b0b6b0" stroke-width="0.8"/>
<path d="M613.5 58.81L661.2 58.81M661.2 58.81L709.2 58.81M613.5 58.81L661.2 51.9M661.2 51.9L709.2 65.72M613.5 72.63L661.2 65.72M661.2 65.72L709.2 44.99M613.5 58.81L661.2 44.99M661.2 44.99L709.2 58.81M613.5 58.81L661.2 86.45M661.2 86.45L709.2 65.72M613.5 51.9L661.2 79.54M661.2 79.54L709.2 65.72M613.5 38.08L661.2 38.08M661.2 38.08L709.2 58.81M613.5 58.81L661.2 65.72M661.2 65.72L709.2 58.81M613.5 58.81L661.2 79.54M661.2 79.54L709.2 86.45M613.5 72.63L661.2 44.99M661.2 44.99L709.2 65.72M613.5 58.81L661.2 38.08M613.5 65.72L661.2 72.63M661.2 72.63L709.2 72.63M613.5 65.72L661.2 100.27M661.2 100.27L709.2 65.72M613.5 65.72L661.2 65.72M613.5 58.81L661.2 72.63M661.2 72.63L709.2 51.9M613.5 51.9L661.2 51.9M661.2 51.9L709.2 79.54M613.5 86.45L661.2 93.36M661.2 93.36L709.2 72.63M661.2 86.45L709.2 58.81M613.5 38.08L661.2 79.54M661.2 79.54L709.2 58.81M661.2 51.9L709.2 114.09M661.2 44.99L709.2 51.9M613.5 100.27L661.2 51.9M613.5 65.72L661.2 58.81M661.2 58.81L709.2 72.63M613.5 38.08L661.2 44.99M661.2 44.99L709.2 44.99M613.5 44.99L661.2 65.72M661.2 51.9L709.2 58.81M661.2 72.63L709.2 58.81M613.5 44.99L661.2 51.9M661.2 58.81L709.2 51.9M661.2 38.08L709.2 51.9M661.2 58.81L709.2 65.72M613.5 72.63L661.2 79.54M661.2 79.54L709.2 38.08M661.2 79.54L709.2 79.54M613.5 51.9L661.2 72.63M613.5 51.9L661.2 38.08M613.5 79.54L661.2 79.54M613.5 79.54L661.2 107.18M661.2 107.18L709.2 58.81M661.2 86.45L709.2 79.54M661.2 51.9L709.2 72.63M613.5 79.54L661.2 72.63M661.2 65.72L709.2 72.63M661.2 58.81L709.2 79.54M661.2 38.08L709.2 38.08" fill="none" stroke="#000" stroke-opacity="0.62" stroke-width="0.3"/>
<path d="M581.8 17.35V121H740.6" fill="none" stroke="#111" stroke-width="1.15" stroke-linecap="square"/>
<path d="M581.8 121h-3M581.8 114.09h-1.5M581.8 107.18h-1.5M581.8 100.27h-1.5M581.8 93.36h-1.5M581.8 86.45h-3M581.8 79.54h-1.5M581.8 72.63h-1.5M581.8 65.72h-1.5M581.8 58.81h-1.5M581.8 51.9h-3M581.8 44.99h-1.5M581.8 38.08h-1.5M581.8 31.17h-1.5M581.8 24.26h-1.5M581.8 17.35h-3M613.5 121v3.15M661.2 121v3.15M709.2 121v3.15" fill="none" stroke="#111" stroke-width="0.92"/>
<text transform="translate(577.9 123.01) rotate(.05)" font-size="5.2" class="b" text-anchor="end">0</text>
<text transform="translate(577.9 88.46) rotate(.05)" font-size="5.2" class="b" text-anchor="end">5</text>
<text transform="translate(577.9 53.91) rotate(.05)" font-size="5.2" class="b" text-anchor="end">10</text>
<text transform="translate(577.9 19.36) rotate(.05)" font-size="5.2" class="b" text-anchor="end">15</text>
<text transform="translate(568.55 69.17) rotate(-89.95)" font-size="5.7" text-anchor="middle" class="r">Dimension score</text>
<text transform="translate(613.5 129.47) rotate(.05)" font-size="5.2" text-anchor="middle" class="r">session1</text>
<text transform="translate(661.2 129.47) rotate(.05)" font-size="5.2" text-anchor="middle" class="r">session2</text>
<text transform="translate(709.2 129.47) rotate(.05)" font-size="5.2" text-anchor="middle" class="r">session3</text>
<text transform="translate(661.5 8.9) rotate(.05)" font-size="6.4" class="b" text-anchor="middle">Self</text>
</g>
<g>
<path d="M49.2 258.95C49.2 257.71 49.27 253.98 49.2 251.5C49.13 249.02 49 245.91 48.8 244.05C48.6 242.19 48.23 241.57 48 240.33C47.77 239.08 47.5 237.84 47.4 236.6C47.3 235.36 47.53 234.12 47.4 232.88C47.27 231.63 47.5 230.39 46.6 229.15C45.7 227.91 43.77 226.67 42 225.43C40.23 224.18 37.17 222.94 36 221.7C34.83 220.46 35.08 219.22 35 217.98C34.92 216.73 35.08 215.49 35.5 214.25C35.92 213.01 36.68 211.77 37.5 210.53C38.32 209.28 39.88 208.04 40.4 206.8C40.92 205.56 40.87 204.32 40.6 203.07C40.33 201.83 39.42 200.59 38.8 199.35C38.18 198.11 37.45 196.87 36.9 195.62C36.35 194.38 35.73 192.52 35.5 191.9L66.5 191.9C66.27 192.52 65.65 194.38 65.1 195.62C64.55 196.87 63.82 198.11 63.2 199.35C62.58 200.59 61.67 201.83 61.4 203.07C61.13 204.32 61.08 205.56 61.6 206.8C62.12 208.04 63.68 209.28 64.5 210.53C65.32 211.77 66.08 213.01 66.5 214.25C66.92 215.49 67.08 216.73 67 217.98C66.92 219.22 67.17 220.46 66 221.7C64.83 222.94 61.77 224.18 60 225.43C58.23 226.67 56.3 227.91 55.4 229.15C54.5 230.39 54.73 231.63 54.6 232.88C54.47 234.12 54.7 235.36 54.6 236.6C54.5 237.84 54.23 239.08 54 240.33C53.77 241.57 53.4 242.19 53.2 244.05C53 245.91 52.87 249.02 52.8 251.5C52.73 253.98 52.8 257.71 52.8 258.95Z" fill="#c3f4c1" stroke="#111" stroke-width="1.25" stroke-linejoin="round"/>
<path d="M98 273.85C97.9 273.6 97.53 272.98 97.4 272.36C97.27 271.74 97.23 271.12 97.2 270.12C97.17 269.13 97.1 267.64 97.2 266.4C97.3 265.16 97.62 263.92 97.8 262.68C97.98 261.43 98.3 260.19 98.3 258.95C98.3 257.71 98.02 256.47 97.8 255.23C97.58 253.98 97.27 252.74 97 251.5C96.73 250.26 96.5 249.02 96.2 247.78C95.9 246.53 95.62 245.29 95.2 244.05C94.78 242.81 94.32 241.57 93.7 240.33C93.08 239.08 92.28 237.84 91.5 236.6C90.72 235.36 89.52 234.12 89 232.88C88.48 231.63 88.37 230.39 88.4 229.15C88.43 227.91 89.3 226.67 89.2 225.43C89.1 224.18 88.4 222.94 87.8 221.7C87.2 220.46 86.17 219.22 85.6 217.98C85.03 216.73 84.6 215.49 84.4 214.25C84.2 213.01 84.37 211.77 84.4 210.53C84.43 209.28 84.37 208.04 84.6 206.8C84.83 205.56 85.37 204.32 85.8 203.07C86.23 201.83 86.73 200.59 87.2 199.35C87.67 198.11 88.18 196.87 88.6 195.62C89.02 194.38 89.52 192.52 89.7 191.9L110.3 191.9C110.48 192.52 110.98 194.38 111.4 195.62C111.82 196.87 112.33 198.11 112.8 199.35C113.27 200.59 113.77 201.83 114.2 203.07C114.63 204.32 115.17 205.56 115.4 206.8C115.63 208.04 115.57 209.28 115.6 210.53C115.63 211.77 115.8 213.01 115.6 214.25C115.4 215.49 114.97 216.73 114.4 217.98C113.83 219.22 112.8 220.46 112.2 221.7C111.6 222.94 110.9 224.18 110.8 225.43C110.7 226.67 111.57 227.91 111.6 229.15C111.63 230.39 111.52 231.63 111 232.88C110.48 234.12 109.28 235.36 108.5 236.6C107.72 237.84 106.92 239.08 106.3 240.33C105.68 241.57 105.22 242.81 104.8 244.05C104.38 245.29 104.1 246.53 103.8 247.78C103.5 249.02 103.27 250.26 103 251.5C102.73 252.74 102.42 253.98 102.2 255.23C101.98 256.47 101.7 257.71 101.7 258.95C101.7 260.19 102.02 261.43 102.2 262.68C102.38 263.92 102.7 265.16 102.8 266.4C102.9 267.64 102.83 269.13 102.8 270.12C102.77 271.12 102.73 271.74 102.6 272.36C102.47 272.98 102.1 273.6 102 273.85Z" fill="#08ee08" stroke="#111" stroke-width="1.25" stroke-linejoin="round"/>
<path d="M148.3 266.4C148.3 265.78 148.38 263.92 148.3 262.68C148.22 261.43 147.87 260.19 147.8 258.95C147.73 257.71 148.05 256.47 147.9 255.23C147.75 253.98 147.07 252.74 146.9 251.5C146.73 250.26 147.03 249.02 146.9 247.78C146.77 246.53 146.23 245.29 146.1 244.05C145.97 242.81 146.33 241.57 146.1 240.33C145.87 239.08 144.87 237.84 144.7 236.6C144.53 235.36 145.43 234.12 145.1 232.88C144.77 231.63 142.88 230.39 142.7 229.15C142.52 227.91 144 226.67 144 225.43C144 224.18 143.12 222.94 142.7 221.7C142.28 220.46 142.53 218.97 141.5 217.98C140.47 216.98 137.83 216.36 136.5 215.74C135.17 215.12 133.5 214.75 133.5 214.25C133.5 213.75 135 213.38 136.5 212.76C138 212.14 141.05 211.52 142.5 210.53C143.95 209.53 144.6 208.04 145.2 206.8C145.8 205.56 145.82 204.32 146.1 203.07C146.38 201.83 146.67 200.59 146.9 199.35C147.13 198.11 147.63 196.87 147.5 195.62C147.37 194.38 146.33 192.52 146.1 191.9L152.9 191.9C152.67 192.52 151.63 194.38 151.5 195.62C151.37 196.87 151.87 198.11 152.1 199.35C152.33 200.59 152.62 201.83 152.9 203.07C153.18 204.32 153.2 205.56 153.8 206.8C154.4 208.04 155.05 209.53 156.5 210.53C157.95 211.52 161 212.14 162.5 212.76C164 213.38 165.5 213.75 165.5 214.25C165.5 214.75 163.83 215.12 162.5 215.74C161.17 216.36 158.53 216.98 157.5 217.98C156.47 218.97 156.72 220.46 156.3 221.7C155.88 222.94 155 224.18 155 225.43C155 226.67 156.48 227.91 156.3 229.15C156.12 230.39 154.23 231.63 153.9 232.88C153.57 234.12 154.47 235.36 154.3 236.6C154.13 237.84 153.13 239.08 152.9 240.33C152.67 241.57 153.03 242.81 152.9 244.05C152.77 245.29 152.23 246.53 152.1 247.78C151.97 249.02 152.27 250.26 152.1 251.5C151.93 252.74 151.25 253.98 151.1 255.23C150.95 256.47 151.27 257.71 151.2 258.95C151.13 260.19 150.78 261.43 150.7 262.68C150.62 263.92 150.7 265.78 150.7 266.4Z" fill="#077f07" stroke="#111" stroke-width="1.25" stroke-linejoin="round"/>
<line x1="36.8" y1="221.7" x2="65.2" y2="221.7" stroke="#061406" stroke-width="0.6" stroke-dasharray="0.8 0.9"/>
<line x1="39.6" y1="199.35" x2="62.4" y2="199.35" stroke="#061406" stroke-width="0.6" stroke-dasharray="0.8 0.9"/>
<line x1="36.1" y1="214.25" x2="65.9" y2="214.25" stroke="#4d9fe0" stroke-width="0.65"/>
<line x1="89.2" y1="229.15" x2="110.8" y2="229.15" stroke="#061406" stroke-width="0.6" stroke-dasharray="0.8 0.9"/>
<line x1="85.4" y1="206.8" x2="114.6" y2="206.8" stroke="#061406" stroke-width="0.6" stroke-dasharray="0.8 0.9"/>
<line x1="85" y1="214.25" x2="115" y2="214.25" stroke="#35a8c0" stroke-width="0.65"/>
<line x1="143.5" y1="229.15" x2="155.5" y2="229.15" stroke="#061406" stroke-width="0.6" stroke-dasharray="0.8 0.9"/>
<line x1="134.3" y1="214.25" x2="164.7" y2="214.25" stroke="#061406" stroke-width="0.6" stroke-dasharray="0.8 0.9"/>
<line x1="134.1" y1="214.25" x2="164.9" y2="214.25" stroke="#b0b6b0" stroke-width="0.8"/>
<path d="M51 214.25L100 214.25M100 214.25L149.5 214.25M51 214.25L100 206.8M100 206.8L149.5 229.15M51 221.7L100 221.7M100 221.7L149.5 191.9M51 199.35L100 199.35M100 199.35L149.5 214.25M51 214.25L100 244.05M100 244.05L149.5 229.15M51 199.35L100 229.15M100 229.15L149.5 221.7M51 191.9L100 191.9M100 191.9L149.5 214.25M51 206.8L100 214.25M51 206.8L100 236.6M100 236.6L149.5 258.95M51 221.7L100 199.35M100 199.35L149.5 229.15M51 199.35L100 191.9M100 191.9L149.5 206.8M51 221.7L100 229.15M100 229.15L149.5 236.6M51 221.7L100 266.4M100 266.4L149.5 229.15M100 221.7L149.5 206.8M100 221.7L149.5 214.25M51 214.25L100 221.7M100 221.7L149.5 199.35M100 199.35L149.5 258.95M51 251.5L100 258.95M100 258.95L149.5 236.6M51 229.15L100 199.35M51 214.25L100 251.5M100 251.5L149.5 214.25M51 191.9L100 244.05M100 244.05L149.5 206.8M51 206.8L100 206.8M100 206.8L149.5 266.4M100 199.35L149.5 199.35M51 258.95L100 206.8M100 206.8L149.5 251.5M51 221.7L100 214.25M100 214.25L149.5 244.05M100 221.7L149.5 221.7M51 191.9L100 199.35M100 199.35L149.5 191.9M51 191.9L100 221.7M100 206.8L149.5 214.25M51 214.25L100 229.15M51 191.9L100 206.8M100 206.8L149.5 221.7M100 206.8L149.5 199.35M51 199.35L100 214.25M100 214.25L149.5 229.15M51 229.15L100 236.6M100 236.6L149.5 191.9M51 191.9L100 236.6M100 236.6L149.5 244.05M100 229.15L149.5 214.25M51 236.6L100 236.6M100 236.6L149.5 221.7M51 221.7L100 206.8M51 244.05L100 273.85M100 273.85L149.5 214.25M100 251.5L149.5 244.05M100 206.8L149.5 236.6M51 236.6L100 229.15M51 191.9L100 214.25M100 214.25L149.5 236.6M51 206.8L100 229.15M100 214.25L149.5 251.5M100 191.9L149.5 191.9M51 214.25L100 273.85M100 273.85L149.5 221.7M51 206.8L100 273.85M100 273.85L149.5 229.15M100 266.4L149.5 214.25M51 199.35L100 266.4M100 266.4L149.5 236.6M51 191.9L100 273.85M51 214.25L100 266.4M100 266.4L149.5 221.7" fill="none" stroke="#000" stroke-opacity="0.62" stroke-width="0.3"/>
<path d="M17.8 169.55V281.3H182.6" fill="none" stroke="#111" stroke-width="1.15" stroke-linecap="square"/>
<path d="M17.8 281.3h-3M17.8 273.85h-1.5M17.8 266.4h-1.5M17.8 258.95h-1.5M17.8 251.5h-1.5M17.8 244.05h-3M17.8 236.6h-1.5M17.8 229.15h-1.5M17.8 221.7h-1.5M17.8 214.25h-1.5M17.8 206.8h-3M17.8 199.35h-1.5M17.8 191.9h-1.5M17.8 184.45h-1.5M17.8 177h-1.5M17.8 169.55h-3M51 281.3v3.15M100 281.3v3.15M149.5 281.3v3.15" fill="none" stroke="#111" stroke-width="0.92"/>
<text transform="translate(13.9 283.46) rotate(.05)" font-size="5.6" class="b" text-anchor="end">0</text>
<text transform="translate(13.9 246.21) rotate(.05)" font-size="5.6" class="b" text-anchor="end">5</text>
<text transform="translate(13.9 208.96) rotate(.05)" font-size="5.6" class="b" text-anchor="end">10</text>
<text transform="translate(13.9 171.71) rotate(.05)" font-size="5.6" class="b" text-anchor="end">15</text>
<text transform="translate(5.21 225.43) rotate(-89.95)" font-size="6.15" text-anchor="middle" class="r">Dimension score</text>
<text transform="translate(51 290.22) rotate(.05)" font-size="5.6" text-anchor="middle" class="r">session1</text>
<text transform="translate(100 290.22) rotate(.05)" font-size="5.6" text-anchor="middle" class="r">session2</text>
<text transform="translate(149.5 290.22) rotate(.05)" font-size="5.6" text-anchor="middle" class="r">session3</text>
<text transform="translate(100.3 160.2) rotate(.05)" font-size="6.85" class="b" text-anchor="middle">Planning</text>
</g>
<g>
<path d="M230.1 280.6C230.03 280.02 229.83 278.3 229.7 277.15C229.57 275.99 229.5 274.84 229.3 273.69C229.1 272.54 229 271.39 228.5 270.24C228 269.08 227.03 267.93 226.3 266.78C225.57 265.63 224.67 264.48 224.1 263.33C223.53 262.17 222.93 261.02 222.9 259.87C222.87 258.72 223.83 257.57 223.9 256.42C223.97 255.26 223.4 254.11 223.3 252.96C223.2 251.81 223.47 250.66 223.3 249.51C223.13 248.35 222.37 247.2 222.3 246.05C222.23 244.9 222.8 243.75 222.9 242.6C223 241.44 222.87 240.29 222.9 239.14C222.93 237.99 223.2 236.84 223.1 235.69C223 234.53 222.02 233.38 222.3 232.23C222.58 231.08 223.85 229.93 224.8 228.78C225.75 227.62 227.13 226.47 228 225.32C228.87 224.17 229.45 223.02 230 221.87C230.55 220.71 231 219.56 231.3 218.41C231.6 217.26 231.63 216.11 231.8 214.96C231.97 213.8 232.05 212.65 232.3 211.5C232.55 210.35 232.97 209.2 233.3 208.05C233.63 206.89 234.07 205.74 234.3 204.59C234.53 203.44 234.57 202.29 234.7 201.14C234.83 199.98 235.03 198.26 235.1 197.68L239.5 197.68C239.57 198.26 239.77 199.98 239.9 201.14C240.03 202.29 240.07 203.44 240.3 204.59C240.53 205.74 240.97 206.89 241.3 208.05C241.63 209.2 242.05 210.35 242.3 211.5C242.55 212.65 242.63 213.8 242.8 214.96C242.97 216.11 243 217.26 243.3 218.41C243.6 219.56 244.05 220.71 244.6 221.87C245.15 223.02 245.73 224.17 246.6 225.32C247.47 226.47 248.85 227.62 249.8 228.78C250.75 229.93 252.02 231.08 252.3 232.23C252.58 233.38 251.6 234.53 251.5 235.69C251.4 236.84 251.67 237.99 251.7 239.14C251.73 240.29 251.6 241.44 251.7 242.6C251.8 243.75 252.37 244.9 252.3 246.05C252.23 247.2 251.47 248.35 251.3 249.51C251.13 250.66 251.4 251.81 251.3 252.96C251.2 254.11 250.63 255.26 250.7 256.42C250.77 257.57 251.73 258.72 251.7 259.87C251.67 261.02 251.07 262.17 250.5 263.33C249.93 264.48 249.03 265.63 248.3 266.78C247.57 267.93 246.6 269.08 246.1 270.24C245.6 271.39 245.5 272.54 245.3 273.69C245.1 274.84 245.03 275.99 244.9 277.15C244.77 278.3 244.57 280.02 244.5 280.6Z" fill="#c3f4c1" stroke="#111" stroke-width="1.25" stroke-linejoin="round"/>
<path d="M278.7 280.6C278.28 280.02 276.98 278.3 276.2 277.15C275.42 275.99 274.53 274.84 274 273.69C273.47 272.54 273.33 271.39 273 270.24C272.67 269.08 272.27 267.93 272 266.78C271.73 265.63 271.63 264.48 271.4 263.33C271.17 262.17 270.8 261.02 270.6 259.87C270.4 258.72 270.37 257.57 270.2 256.42C270.03 255.26 269.53 254.11 269.6 252.96C269.67 251.81 270.03 250.66 270.6 249.51C271.17 248.35 272.27 247.2 273 246.05C273.73 244.9 274.42 243.75 275 242.6C275.58 241.44 276.12 240.29 276.5 239.14C276.88 237.99 277.13 236.84 277.3 235.69C277.47 234.53 277.27 233.38 277.5 232.23C277.73 231.08 278.32 229.93 278.7 228.78C279.08 227.62 279.5 226.47 279.8 225.32C280.1 224.17 280.25 223.02 280.5 221.87C280.75 220.71 281.05 219.56 281.3 218.41C281.55 217.26 281.77 216.11 282 214.96C282.23 213.8 282.48 213.23 282.7 211.5C282.92 209.77 283.15 206.89 283.3 204.59C283.45 202.29 283.55 198.83 283.6 197.68L286.4 197.68C286.45 198.83 286.55 202.29 286.7 204.59C286.85 206.89 287.08 209.77 287.3 211.5C287.52 213.23 287.77 213.8 288 214.96C288.23 216.11 288.45 217.26 288.7 218.41C288.95 219.56 289.25 220.71 289.5 221.87C289.75 223.02 289.9 224.17 290.2 225.32C290.5 226.47 290.92 227.62 291.3 228.78C291.68 229.93 292.27 231.08 292.5 232.23C292.73 233.38 292.53 234.53 292.7 235.69C292.87 236.84 293.12 237.99 293.5 239.14C293.88 240.29 294.42 241.44 295 242.6C295.58 243.75 296.27 244.9 297 246.05C297.73 247.2 298.83 248.35 299.4 249.51C299.97 250.66 300.33 251.81 300.4 252.96C300.47 254.11 299.97 255.26 299.8 256.42C299.63 257.57 299.6 258.72 299.4 259.87C299.2 261.02 298.83 262.17 298.6 263.33C298.37 264.48 298.27 265.63 298 266.78C297.73 267.93 297.33 269.08 297 270.24C296.67 271.39 296.53 272.54 296 273.69C295.47 274.84 294.58 275.99 293.8 277.15C293.02 278.3 291.72 280.02 291.3 280.6Z" fill="#08ee08" stroke="#111" stroke-width="1.25" stroke-linejoin="round"/>
<path d="M325.7 280.6C325.5 280.31 324.82 279.45 324.5 278.87C324.18 278.3 324.02 278.01 323.8 277.15C323.58 276.28 323.38 274.84 323.2 273.69C323.02 272.54 323.18 271.39 322.7 270.24C322.22 269.08 320.97 267.93 320.3 266.78C319.63 265.63 319.1 264.48 318.7 263.33C318.3 262.17 317.95 261.02 317.9 259.87C317.85 258.72 318.3 257.57 318.4 256.42C318.5 255.26 318.5 254.11 318.5 252.96C318.5 251.81 318.43 250.66 318.4 249.51C318.37 248.35 318.05 247.2 318.3 246.05C318.55 244.9 319.32 243.75 319.9 242.6C320.48 241.44 321.63 240.29 321.8 239.14C321.97 237.99 321.32 236.84 320.9 235.69C320.48 234.53 319.5 233.38 319.3 232.23C319.1 231.08 319.18 229.93 319.7 228.78C320.22 227.62 321.35 226.47 322.4 225.32C323.45 224.17 324.98 223.02 326 221.87C327.02 220.71 327.92 219.56 328.5 218.41C329.08 217.26 329.25 216.11 329.5 214.96C329.75 213.8 329.87 212.65 330 211.5C330.13 210.35 330.2 209.2 330.3 208.05C330.4 206.89 330.55 205.17 330.6 204.59L334.8 204.59C334.85 205.17 335 206.89 335.1 208.05C335.2 209.2 335.27 210.35 335.4 211.5C335.53 212.65 335.65 213.8 335.9 214.96C336.15 216.11 336.32 217.26 336.9 218.41C337.48 219.56 338.38 220.71 339.4 221.87C340.42 223.02 341.95 224.17 343 225.32C344.05 226.47 345.18 227.62 345.7 228.78C346.22 229.93 346.3 231.08 346.1 232.23C345.9 233.38 344.92 234.53 344.5 235.69C344.08 236.84 343.43 237.99 343.6 239.14C343.77 240.29 344.92 241.44 345.5 242.6C346.08 243.75 346.85 244.9 347.1 246.05C347.35 247.2 347.03 248.35 347 249.51C346.97 250.66 346.9 251.81 346.9 252.96C346.9 254.11 346.9 255.26 347 256.42C347.1 257.57 347.55 258.72 347.5 259.87C347.45 261.02 347.1 262.17 346.7 263.33C346.3 264.48 345.77 265.63 345.1 266.78C344.43 267.93 343.18 269.08 342.7 270.24C342.22 271.39 342.38 272.54 342.2 273.69C342.02 274.84 341.82 276.28 341.6 277.15C341.38 278.01 341.22 278.3 340.9 278.87C340.58 279.45 339.9 280.31 339.7 280.6Z" fill="#077f07" stroke="#111" stroke-width="1.25" stroke-linejoin="round"/>
<line x1="223.7" y1="259.87" x2="250.9" y2="259.87" stroke="#061406" stroke-width="0.6" stroke-dasharray="0.8 0.9"/>
<line x1="223.1" y1="232.23" x2="251.5" y2="232.23" stroke="#061406" stroke-width="0.6" stroke-dasharray="0.8 0.9"/>
<line x1="222.9" y1="246.05" x2="251.7" y2="246.05" stroke="#4d9fe0" stroke-width="0.65"/>
<line x1="272.2" y1="263.33" x2="297.8" y2="263.33" stroke="#061406" stroke-width="0.6" stroke-dasharray="0.8 0.9"/>
<line x1="277.78" y1="237.07" x2="292.22" y2="237.07" stroke="#061406" stroke-width="0.6" stroke-dasharray="0.8 0.9"/>
<line x1="270.2" y1="252.96" x2="299.8" y2="252.96" stroke="#35a8c0" stroke-width="0.65"/>
<line x1="318.7" y1="259.87" x2="346.7" y2="259.87" stroke="#061406" stroke-width="0.6" stroke-dasharray="0.8 0.9"/>
<line x1="320.1" y1="232.23" x2="345.3" y2="232.23" stroke="#061406" stroke-width="0.6" stroke-dasharray="0.8 0.9"/>
<line x1="318.9" y1="246.05" x2="346.5" y2="246.05" stroke="#b0b6b0" stroke-width="0.8"/>
<path d="M237.3 218.41L285 239.14M285 239.14L332.7 266.78M237.3 280.6L285 239.14M285 239.14L332.7 273.69M237.3 273.69L285 211.5M285 211.5L332.7 232.23M237.3 246.05L285 252.96M285 252.96L332.7 239.14M237.3 218.41L285 266.78M285 266.78L332.7 232.23M237.3 239.14L285 266.78M285 266.78L332.7 266.78M237.3 273.69L285 246.05M285 246.05L332.7 246.05M237.3 280.6L285 232.23M285 232.23L332.7 266.78M237.3 232.23L285 259.87M285 259.87L332.7 232.23M237.3 259.87L285 246.05M285 246.05L332.7 211.5M237.3 266.78L285 211.5M285 211.5L332.7 259.87M237.3 225.32L285 280.6M285 280.6L332.7 218.41M237.3 232.23L285 273.69M285 273.69L332.7 246.05M237.3 239.14L285 246.05M285 246.05L332.7 252.96M237.3 239.14L285 239.14M285 239.14L332.7 280.6M237.3 232.23L285 246.05M285 246.05L332.7 225.32M237.3 225.32L285 273.69M285 273.69L332.7 259.87M285 252.96L332.7 266.78M237.3 246.05L285 259.87M285 259.87L332.7 252.96M285 266.78L332.7 246.05M237.3 273.69L285 204.59M285 204.59L332.7 218.41M237.3 218.41L285 246.05M285 246.05L332.7 266.78M237.3 225.32L285 266.78M285 266.78L332.7 225.32M237.3 280.6L285 259.87M285 259.87L332.7 225.32M237.3 259.87L285 252.96M285 252.96L332.7 252.96M237.3 232.23L285 280.6M285 280.6L332.7 266.78M237.3 266.78L285 252.96M285 252.96L332.7 225.32M237.3 252.96L285 225.32M285 225.32L332.7 246.05M237.3 211.5L285 266.78M237.3 273.69L285 259.87M237.3 211.5L285 239.14M285 239.14L332.7 259.87M237.3 259.87L285 225.32M285 225.32L332.7 259.87M237.3 239.14L285 273.69M285 273.69L332.7 273.69M285 259.87L332.7 239.14M237.3 252.96L285 266.78M285 266.78L332.7 252.96M285 246.05L332.7 259.87M237.3 266.78L285 232.23M285 232.23L332.7 252.96M237.3 252.96L285 280.6M285 280.6L332.7 232.23M237.3 232.23L285 232.23M285 232.23L332.7 259.87M237.3 246.05L285 273.69M285 273.69L332.7 225.32M237.3 239.14L285 280.6M285 280.6L332.7 239.14M237.3 211.5L285 252.96M237.3 252.96L285 218.41M285 218.41L332.7 204.59M237.3 280.6L285 266.78M237.3 252.96L285 232.23M285 232.23L332.7 280.6M237.3 259.87L285 259.87M285 259.87L332.7 273.69M237.3 204.59L285 252.96M285 252.96L332.7 280.6M237.3 266.78L285 218.41M285 218.41L332.7 232.23M237.3 232.23L285 239.14M237.3 266.78L285 259.87M285 259.87L332.7 246.05M237.3 259.87L285 197.68M285 197.68L332.7 252.96M237.3 197.68L285 225.32M285 225.32L332.7 252.96M237.3 225.32L285 259.87M285 252.96L332.7 211.5M285 252.96L332.7 259.87M237.3 246.05L285 246.05M285 246.05L332.7 239.14M237.3 259.87L285 273.69M237.3 252.96L285 273.69M285 273.69L332.7 232.23" fill="none" stroke="#000" stroke-opacity="0.62" stroke-width="0.3"/>
<path d="M205.1 176.95V280.6H364.5" fill="none" stroke="#111" stroke-width="1.15" stroke-linecap="square"/>
<path d="M205.1 280.6h-3M205.1 273.69h-1.5M205.1 266.78h-1.5M205.1 259.87h-1.5M205.1 252.96h-1.5M205.1 246.05h-3M205.1 239.14h-1.5M205.1 232.23h-1.5M205.1 225.32h-1.5M205.1 218.41h-1.5M205.1 211.5h-3M205.1 204.59h-1.5M205.1 197.68h-1.5M205.1 190.77h-1.5M205.1 183.86h-1.5M205.1 176.95h-3M237.3 280.6v3.15M285 280.6v3.15M332.7 280.6v3.15" fill="none" stroke="#111" stroke-width="0.92"/>
<text transform="translate(201.2 282.61) rotate(.05)" font-size="5.2" class="b" text-anchor="end">0</text>
<text transform="translate(201.2 248.06) rotate(.05)" font-size="5.2" class="b" text-anchor="end">5</text>
<text transform="translate(201.2 213.51) rotate(.05)" font-size="5.2" class="b" text-anchor="end">10</text>
<text transform="translate(201.2 178.96) rotate(.05)" font-size="5.2" class="b" text-anchor="end">15</text>
<text transform="translate(192.85 228.78) rotate(-89.95)" font-size="5.7" text-anchor="middle" class="r">Dimension score</text>
<text transform="translate(237.3 289.07) rotate(.05)" font-size="5.2" text-anchor="middle" class="r">session1</text>
<text transform="translate(285 289.07) rotate(.05)" font-size="5.2" text-anchor="middle" class="r">session2</text>
<text transform="translate(332.7 289.07) rotate(.05)" font-size="5.2" text-anchor="middle" class="r">session3</text>
<text transform="translate(285 167.9) rotate(.05)" font-size="6.55" class="b" text-anchor="middle">Sleepiness</text>
</g>
<g>
<path d="M416.1 279.1C416.08 278.5 416.08 276.69 416 275.49C415.92 274.28 415.87 273.07 415.6 271.87C415.33 270.67 415.1 269.46 414.4 268.25C413.7 267.05 412.43 265.85 411.4 264.64C410.37 263.44 408.97 262.23 408.2 261.03C407.43 259.82 406.8 258.62 406.8 257.41C406.8 256.21 407.45 255 408.2 253.8C408.95 252.59 410.55 251.38 411.3 250.18C412.05 248.98 412.37 247.77 412.7 246.57C413.03 245.36 413.2 244.76 413.3 242.95C413.4 241.14 413.3 238.13 413.3 235.72C413.3 233.31 413.3 230.9 413.3 228.49C413.3 226.08 413.22 223.07 413.3 221.26C413.38 219.45 413.57 218.85 413.8 217.65C414.03 216.44 414.07 215.24 414.7 214.03C415.33 212.83 416.68 211.62 417.6 210.42C418.52 209.21 419.57 208.01 420.2 206.8C420.83 205.59 421.17 204.39 421.4 203.19C421.63 201.98 421.57 201.38 421.6 199.57C421.63 197.76 421.6 193.55 421.6 192.34L424.4 192.34C424.4 193.55 424.37 197.76 424.4 199.57C424.43 201.38 424.37 201.98 424.6 203.19C424.83 204.39 425.17 205.59 425.8 206.8C426.43 208.01 427.48 209.21 428.4 210.42C429.32 211.62 430.67 212.83 431.3 214.03C431.93 215.24 431.97 216.44 432.2 217.65C432.43 218.85 432.62 219.45 432.7 221.26C432.78 223.07 432.7 226.08 432.7 228.49C432.7 230.9 432.7 233.31 432.7 235.72C432.7 238.13 432.6 241.14 432.7 242.95C432.8 244.76 432.97 245.36 433.3 246.57C433.63 247.77 433.95 248.98 434.7 250.18C435.45 251.38 437.05 252.59 437.8 253.8C438.55 255 439.2 256.21 439.2 257.41C439.2 258.62 438.57 259.82 437.8 261.03C437.03 262.23 435.63 263.44 434.6 264.64C433.57 265.85 432.3 267.05 431.6 268.25C430.9 269.46 430.67 270.67 430.4 271.87C430.13 273.07 430.08 274.28 430 275.49C429.92 276.69 429.92 278.5 429.9 279.1Z" fill="#c3f4c1" stroke="#111" stroke-width="1.25" stroke-linejoin="round"/>
<path d="M464.8 279.1C464.88 278.5 465 276.69 465.3 275.49C465.6 274.28 466.52 273.07 466.6 271.87C466.68 270.67 466.35 269.46 465.8 268.25C465.25 267.05 464.38 265.85 463.3 264.64C462.22 263.44 460.25 262.23 459.3 261.03C458.35 259.82 457.7 258.62 457.6 257.41C457.5 256.21 458.28 255 458.7 253.8C459.12 252.59 459.67 251.38 460.1 250.18C460.53 248.98 461.02 247.77 461.3 246.57C461.58 245.36 461.55 244.16 461.8 242.95C462.05 241.75 462.18 240.54 462.8 239.34C463.42 238.13 464.83 236.93 465.5 235.72C466.17 234.52 466.5 233.31 466.8 232.11C467.1 230.9 467.18 229.69 467.3 228.49C467.42 227.29 467.42 226.08 467.5 224.88C467.58 223.67 467.83 222.47 467.8 221.26C467.77 220.06 467.47 218.85 467.3 217.65C467.13 216.44 466.88 214.63 466.8 214.03L479.8 214.03C479.72 214.63 479.47 216.44 479.3 217.65C479.13 218.85 478.83 220.06 478.8 221.26C478.77 222.47 479.02 223.67 479.1 224.88C479.18 226.08 479.18 227.29 479.3 228.49C479.42 229.69 479.5 230.9 479.8 232.11C480.1 233.31 480.43 234.52 481.1 235.72C481.77 236.93 483.18 238.13 483.8 239.34C484.42 240.54 484.55 241.75 484.8 242.95C485.05 244.16 485.02 245.36 485.3 246.57C485.58 247.77 486.07 248.98 486.5 250.18C486.93 251.38 487.48 252.59 487.9 253.8C488.32 255 489.1 256.21 489 257.41C488.9 258.62 488.25 259.82 487.3 261.03C486.35 262.23 484.38 263.44 483.3 264.64C482.22 265.85 481.35 267.05 480.8 268.25C480.25 269.46 479.92 270.67 480 271.87C480.08 273.07 481 274.28 481.3 275.49C481.6 276.69 481.72 278.5 481.8 279.1Z" fill="#08ee08" stroke="#111" stroke-width="1.25" stroke-linejoin="round"/>
<path d="M517.1 279.1C517.23 278.86 517.73 278.26 517.9 277.65C518.07 277.05 518.3 276.45 518.1 275.49C517.9 274.52 516.83 273.07 516.7 271.87C516.57 270.67 517.63 269.46 517.3 268.25C516.97 267.05 514.93 265.85 514.7 264.64C514.47 263.44 516.43 261.99 515.9 261.03C515.37 260.06 512.82 259.46 511.5 258.86C510.18 258.25 508.17 257.89 508 257.41C507.83 256.93 509.83 256.57 510.5 255.96C511.17 255.36 512.17 254.52 512 253.8C511.83 253.07 510.25 252.23 509.5 251.63C508.75 251.02 507.5 250.66 507.5 250.18C507.5 249.7 508.83 249.34 509.5 248.73C510.17 248.13 511.58 247.29 511.5 246.57C511.42 245.84 509.72 245 509 244.4C508.28 243.79 507.03 243.43 507.2 242.95C507.37 242.47 508.87 242.11 510 241.5C511.13 240.9 513.45 240.3 514 239.34C514.55 238.37 512.88 236.93 513.3 235.72C513.72 234.52 515.9 233.31 516.5 232.11C517.1 230.9 516.43 229.69 516.9 228.49C517.37 227.29 518.75 226.08 519.3 224.88C519.85 223.67 519.87 222.47 520.2 221.26C520.53 220.06 521.18 218.61 521.3 217.65C521.42 216.68 521.13 216.08 520.9 215.48C520.67 214.87 520.07 214.27 519.9 214.03L527.1 214.03C526.93 214.27 526.33 214.87 526.1 215.48C525.87 216.08 525.58 216.68 525.7 217.65C525.82 218.61 526.47 220.06 526.8 221.26C527.13 222.47 527.15 223.67 527.7 224.88C528.25 226.08 529.63 227.29 530.1 228.49C530.57 229.69 529.9 230.9 530.5 232.11C531.1 233.31 533.28 234.52 533.7 235.72C534.12 236.93 532.45 238.37 533 239.34C533.55 240.3 535.87 240.9 537 241.5C538.13 242.11 539.63 242.47 539.8 242.95C539.97 243.43 538.72 243.79 538 244.4C537.28 245 535.58 245.84 535.5 246.57C535.42 247.29 536.83 248.13 537.5 248.73C538.17 249.34 539.5 249.7 539.5 250.18C539.5 250.66 538.25 251.02 537.5 251.63C536.75 252.23 535.17 253.07 535 253.8C534.83 254.52 535.83 255.36 536.5 255.96C537.17 256.57 539.17 256.93 539 257.41C538.83 257.89 536.82 258.25 535.5 258.86C534.18 259.46 531.63 260.06 531.1 261.03C530.57 261.99 532.53 263.44 532.3 264.64C532.07 265.85 530.03 267.05 529.7 268.25C529.37 269.46 530.43 270.67 530.3 271.87C530.17 273.07 529.1 274.52 528.9 275.49C528.7 276.45 528.93 277.05 529.1 277.65C529.27 278.26 529.77 278.86 529.9 279.1Z" fill="#077f07" stroke="#111" stroke-width="1.25" stroke-linejoin="round"/>
<line x1="409" y1="261.03" x2="437" y2="261.03" stroke="#061406" stroke-width="0.6" stroke-dasharray="0.8 0.9"/>
<line x1="414.1" y1="228.49" x2="431.9" y2="228.49" stroke="#061406" stroke-width="0.6" stroke-dasharray="0.8 0.9"/>
<line x1="411.9" y1="250.18" x2="434.1" y2="250.18" stroke="#4d9fe0" stroke-width="0.65"/>
<line x1="459.42" y1="259.58" x2="487.18" y2="259.58" stroke="#061406" stroke-width="0.6" stroke-dasharray="0.8 0.9"/>
<line x1="466.3" y1="235.72" x2="480.3" y2="235.72" stroke="#061406" stroke-width="0.6" stroke-dasharray="0.8 0.9"/>
<line x1="460.7" y1="250.18" x2="485.9" y2="250.18" stroke="#35a8c0" stroke-width="0.65"/>
<line x1="508.8" y1="257.41" x2="538.2" y2="257.41" stroke="#061406" stroke-width="0.6" stroke-dasharray="0.8 0.9"/>
<line x1="508" y1="242.95" x2="539" y2="242.95" stroke="#061406" stroke-width="0.6" stroke-dasharray="0.8 0.9"/>
<line x1="508.1" y1="250.18" x2="538.9" y2="250.18" stroke="#b0b6b0" stroke-width="0.8"/>
<path d="M423 235.72L473.3 271.87M473.3 271.87L523.5 257.41M423 214.03L473.3 228.49M473.3 228.49L523.5 235.72M423 199.57L473.3 221.26M473.3 221.26L523.5 242.95M423 250.18L473.3 264.64M473.3 264.64L523.5 228.49M423 257.41L473.3 279.1M473.3 279.1L523.5 279.1M423 271.87L473.3 257.41M473.3 257.41L523.5 257.41M423 221.26L473.3 250.18M473.3 250.18L523.5 250.18M423 257.41L473.3 250.18M473.3 250.18L523.5 242.95M423 250.18L473.3 214.03M473.3 214.03L523.5 228.49M423 264.64L473.3 264.64M473.3 264.64L523.5 279.1M423 264.64L473.3 221.26M473.3 221.26L523.5 235.72M423 257.41L473.3 271.87M473.3 271.87L523.5 264.64M423 228.49L473.3 279.1M473.3 279.1L523.5 250.18M423 271.87L473.3 228.49M473.3 228.49L523.5 264.64M473.3 221.26L523.5 250.18M423 242.95L473.3 228.49M473.3 228.49L523.5 228.49M423 221.26L473.3 257.41M423 250.18L473.3 257.41M423 279.1L473.3 250.18M423 279.1L473.3 242.95M473.3 242.95L523.5 250.18M423 235.72L473.3 250.18M473.3 250.18L523.5 221.26M423 264.64L473.3 235.72M473.3 235.72L523.5 235.72M423 228.49L473.3 257.41M423 214.03L473.3 235.72M473.3 235.72L523.5 214.03M423 242.95L473.3 242.95M473.3 242.95L523.5 264.64M473.3 214.03L523.5 242.95M423 221.26L473.3 235.72M473.3 235.72L523.5 250.18M423 192.34L473.3 257.41M473.3 257.41L523.5 250.18M423 242.95L473.3 257.41M473.3 242.95L523.5 242.95M423 271.87L473.3 264.64M473.3 264.64L523.5 271.87M423 206.8L473.3 242.95M473.3 242.95L523.5 271.87M423 214.03L473.3 214.03M473.3 279.1L523.5 264.64M423 279.1L473.3 279.1M423 264.64L473.3 250.18M473.3 250.18L523.5 279.1M423 228.49L473.3 250.18M473.3 250.18L523.5 235.72M423 271.87L473.3 242.95M473.3 242.95L523.5 235.72M423 257.41L473.3 264.64M473.3 264.64L523.5 235.72M473.3 235.72L523.5 257.41M423 264.64L473.3 242.95M423 214.03L473.3 271.87M473.3 271.87L523.5 271.87M423 235.72L473.3 214.03M423 250.18L473.3 235.72M423 235.72L473.3 257.41M473.3 257.41L523.5 221.26M473.3 257.41L523.5 242.95M423 235.72L473.3 242.95M473.3 242.95L523.5 257.41M423 242.95L473.3 264.64M473.3 264.64L523.5 257.41M473.3 214.03L523.5 214.03" fill="none" stroke="#000" stroke-opacity="0.62" stroke-width="0.3"/>
<path d="M389.6 170.65V279.1H556.3" fill="none" stroke="#111" stroke-width="1.15" stroke-linecap="square"/>
<path d="M389.6 279.1h-3M389.6 271.87h-1.5M389.6 264.64h-1.5M389.6 257.41h-1.5M389.6 250.18h-1.5M389.6 242.95h-3M389.6 235.72h-1.5M389.6 228.49h-1.5M389.6 221.26h-1.5M389.6 214.03h-1.5M389.6 206.8h-3M389.6 199.57h-1.5M389.6 192.34h-1.5M389.6 185.11h-1.5M389.6 177.88h-1.5M389.6 170.65h-3M423 279.1v3.15M473.3 279.1v3.15M523.5 279.1v3.15" fill="none" stroke="#111" stroke-width="0.92"/>
<text transform="translate(385.7 281.2) rotate(.05)" font-size="5.44" class="b" text-anchor="end">0</text>
<text transform="translate(385.7 245.05) rotate(.05)" font-size="5.44" class="b" text-anchor="end">5</text>
<text transform="translate(385.7 208.9) rotate(.05)" font-size="5.44" class="b" text-anchor="end">10</text>
<text transform="translate(385.7 172.75) rotate(.05)" font-size="5.44" class="b" text-anchor="end">15</text>
<text transform="translate(376.65 224.88) rotate(-89.95)" font-size="5.96" text-anchor="middle" class="r">Dimension score</text>
<text transform="translate(423 288.36) rotate(.05)" font-size="5.44" text-anchor="middle" class="r">session1</text>
<text transform="translate(473.3 288.36) rotate(.05)" font-size="5.44" text-anchor="middle" class="r">session2</text>
<text transform="translate(523.5 288.36) rotate(.05)" font-size="5.44" text-anchor="middle" class="r">session3</text>
<text transform="translate(473.4 161) rotate(.05)" font-size="6.9" class="b" text-anchor="middle">Somatic Awareness</text>
</g>
<g>
<path d="M612.4 276.4C612.32 275.76 612.1 273.84 611.9 272.55C611.7 271.27 611.47 269.99 611.2 268.71C610.93 267.43 610.57 266.15 610.3 264.86C610.03 263.58 609.85 262.94 609.6 261.02C609.35 259.1 609.12 255.89 608.8 253.33C608.48 250.77 608.25 247.56 607.7 245.64C607.15 243.72 606.57 243.08 605.5 241.79C604.43 240.51 602.37 239.23 601.3 237.95C600.23 236.67 599.78 235.39 599.1 234.1C598.42 232.82 597.6 231.54 597.2 230.26C596.8 228.98 596.88 227.7 596.7 226.41C596.52 225.13 596.1 223.85 596.1 222.57C596.1 221.29 596.43 220.01 596.7 218.72C596.97 217.44 596.93 216.16 597.7 214.88C598.47 213.6 600.13 212.32 601.3 211.03C602.47 209.75 603.97 208.47 604.7 207.19C605.43 205.91 605.53 204.63 605.7 203.34C605.87 202.06 605.37 200.78 605.7 199.5C606.03 198.22 607.1 196.94 607.7 195.65C608.3 194.37 608.88 193.09 609.3 191.81C609.72 190.53 610.05 189.25 610.2 187.96C610.35 186.68 610.2 184.76 610.2 184.12L617.2 184.12C617.2 184.76 617.05 186.68 617.2 187.96C617.35 189.25 617.68 190.53 618.1 191.81C618.52 193.09 619.1 194.37 619.7 195.65C620.3 196.94 621.37 198.22 621.7 199.5C622.03 200.78 621.53 202.06 621.7 203.34C621.87 204.63 621.97 205.91 622.7 207.19C623.43 208.47 624.93 209.75 626.1 211.03C627.27 212.32 628.93 213.6 629.7 214.88C630.47 216.16 630.43 217.44 630.7 218.72C630.97 220.01 631.3 221.29 631.3 222.57C631.3 223.85 630.88 225.13 630.7 226.41C630.52 227.7 630.6 228.98 630.2 230.26C629.8 231.54 628.98 232.82 628.3 234.1C627.62 235.39 627.17 236.67 626.1 237.95C625.03 239.23 622.97 240.51 621.9 241.79C620.83 243.08 620.25 243.72 619.7 245.64C619.15 247.56 618.92 250.77 618.6 253.33C618.28 255.89 618.05 259.1 617.8 261.02C617.55 262.94 617.37 263.58 617.1 264.86C616.83 266.15 616.47 267.43 616.2 268.71C615.93 269.99 615.7 271.27 615.5 272.55C615.3 273.84 615.08 275.76 615 276.4Z" fill="#c3f4c1" stroke="#111" stroke-width="1.25" stroke-linejoin="round"/>
<path d="M664.8 276.4C664.8 275.12 664.85 270.63 664.8 268.71C664.75 266.79 664.7 266.15 664.5 264.86C664.3 263.58 664.12 262.3 663.6 261.02C663.08 259.74 662.4 258.46 661.4 257.17C660.4 255.89 658.68 254.61 657.6 253.33C656.52 252.05 655.57 250.77 654.9 249.48C654.23 248.2 653.85 246.92 653.6 245.64C653.35 244.36 653.5 243.08 653.4 241.79C653.3 240.51 653.07 239.23 653 237.95C652.93 236.67 653.12 235.39 653 234.1C652.88 232.82 652.53 231.54 652.3 230.26C652.07 228.98 651.85 227.7 651.6 226.41C651.35 225.13 651.05 223.85 650.8 222.57C650.55 221.29 650.27 220.01 650.1 218.72C649.93 217.44 649.43 216.16 649.8 214.88C650.17 213.6 651.33 212.32 652.3 211.03C653.27 209.75 654.5 208.47 655.6 207.19C656.7 205.91 657.98 204.63 658.9 203.34C659.82 202.06 660.52 200.78 661.1 199.5C661.68 198.22 661.98 196.94 662.4 195.65C662.82 194.37 663.3 193.09 663.6 191.81C663.9 190.53 664.03 189.25 664.2 187.96C664.37 186.68 664.53 184.76 664.6 184.12L668.6 184.12C668.67 184.76 668.83 186.68 669 187.96C669.17 189.25 669.3 190.53 669.6 191.81C669.9 193.09 670.38 194.37 670.8 195.65C671.22 196.94 671.52 198.22 672.1 199.5C672.68 200.78 673.38 202.06 674.3 203.34C675.22 204.63 676.5 205.91 677.6 207.19C678.7 208.47 679.93 209.75 680.9 211.03C681.87 212.32 683.03 213.6 683.4 214.88C683.77 216.16 683.27 217.44 683.1 218.72C682.93 220.01 682.65 221.29 682.4 222.57C682.15 223.85 681.85 225.13 681.6 226.41C681.35 227.7 681.13 228.98 680.9 230.26C680.67 231.54 680.32 232.82 680.2 234.1C680.08 235.39 680.27 236.67 680.2 237.95C680.13 239.23 679.9 240.51 679.8 241.79C679.7 243.08 679.85 244.36 679.6 245.64C679.35 246.92 678.97 248.2 678.3 249.48C677.63 250.77 676.68 252.05 675.6 253.33C674.52 254.61 672.8 255.89 671.8 257.17C670.8 258.46 670.12 259.74 669.6 261.02C669.08 262.3 668.9 263.58 668.7 264.86C668.5 266.15 668.45 266.79 668.4 268.71C668.35 270.63 668.4 275.12 668.4 276.4Z" fill="#08ee08" stroke="#111" stroke-width="1.25" stroke-linejoin="round"/>
<path d="M718.7 276.4C718.62 275.76 718.48 273.84 718.2 272.55C717.92 271.27 717.32 269.99 717 268.71C716.68 267.43 716.37 266.15 716.3 264.86C716.23 263.58 716.45 262.3 716.6 261.02C716.75 259.74 717.5 258.46 717.2 257.17C716.9 255.89 716.07 254.61 714.8 253.33C713.53 252.05 711.2 250.77 709.6 249.48C708 248.2 706.27 246.92 705.2 245.64C704.13 244.36 703.53 243.08 703.2 241.79C702.87 240.51 702.73 239.23 703.2 237.95C703.67 236.67 704.93 235.39 706 234.1C707.07 232.82 708.92 231.54 709.6 230.26C710.28 228.98 709.98 227.7 710.1 226.41C710.22 225.13 710.3 223.85 710.3 222.57C710.3 221.29 710.13 220.01 710.1 218.72C710.07 217.44 709.95 216.16 710.1 214.88C710.25 213.6 710.58 212.32 711 211.03C711.42 209.75 711.93 208.47 712.6 207.19C713.27 205.91 714.32 204.63 715 203.34C715.68 202.06 716.23 201.42 716.7 199.5C717.17 197.58 717.58 194.37 717.8 191.81C718.02 189.25 717.97 185.4 718 184.12L722 184.12C722.03 185.4 721.98 189.25 722.2 191.81C722.42 194.37 722.83 197.58 723.3 199.5C723.77 201.42 724.32 202.06 725 203.34C725.68 204.63 726.73 205.91 727.4 207.19C728.07 208.47 728.58 209.75 729 211.03C729.42 212.32 729.75 213.6 729.9 214.88C730.05 216.16 729.93 217.44 729.9 218.72C729.87 220.01 729.7 221.29 729.7 222.57C729.7 223.85 729.78 225.13 729.9 226.41C730.02 227.7 729.72 228.98 730.4 230.26C731.08 231.54 732.93 232.82 734 234.1C735.07 235.39 736.33 236.67 736.8 237.95C737.27 239.23 737.13 240.51 736.8 241.79C736.47 243.08 735.87 244.36 734.8 245.64C733.73 246.92 732 248.2 730.4 249.48C728.8 250.77 726.47 252.05 725.2 253.33C723.93 254.61 723.1 255.89 722.8 257.17C722.5 258.46 723.25 259.74 723.4 261.02C723.55 262.3 723.77 263.58 723.7 264.86C723.63 266.15 723.32 267.43 723 268.71C722.68 269.99 722.08 271.27 721.8 272.55C721.52 273.84 721.38 275.76 721.3 276.4Z" fill="#077f07" stroke="#111" stroke-width="1.25" stroke-linejoin="round"/>
<line x1="602.1" y1="237.95" x2="625.3" y2="237.95" stroke="#061406" stroke-width="0.6" stroke-dasharray="0.8 0.9"/>
<line x1="598.5" y1="214.88" x2="628.9" y2="214.88" stroke="#061406" stroke-width="0.6" stroke-dasharray="0.8 0.9"/>
<line x1="596.7" y1="222.57" x2="630.7" y2="222.57" stroke="#4d9fe0" stroke-width="0.65"/>
<line x1="653.8" y1="237.95" x2="679.4" y2="237.95" stroke="#061406" stroke-width="0.6" stroke-dasharray="0.8 0.9"/>
<line x1="650.6" y1="214.88" x2="682.6" y2="214.88" stroke="#061406" stroke-width="0.6" stroke-dasharray="0.8 0.9"/>
<line x1="651.4" y1="222.57" x2="681.8" y2="222.57" stroke="#35a8c0" stroke-width="0.65"/>
<line x1="706" y1="245.64" x2="734" y2="245.64" stroke="#061406" stroke-width="0.6" stroke-dasharray="0.8 0.9"/>
<line x1="710.9" y1="214.88" x2="729.1" y2="214.88" stroke="#061406" stroke-width="0.6" stroke-dasharray="0.8 0.9"/>
<line x1="710.2" y1="230.26" x2="729.8" y2="230.26" stroke="#b0b6b0" stroke-width="0.8"/>
<path d="M613.7 222.57L666.6 222.57M666.6 222.57L720 230.26M613.7 230.26L666.6 214.88M666.6 214.88L720 237.95M613.7 245.64L666.6 230.26M666.6 230.26L720 191.81M613.7 214.88L666.6 207.19M666.6 207.19L720 222.57M613.7 222.57L666.6 253.33M666.6 253.33L720 245.64M613.7 207.19L666.6 245.64M666.6 245.64L720 237.95M613.7 184.12L666.6 199.5M666.6 199.5L720 230.26M613.7 222.57L666.6 230.26M666.6 230.26L720 230.26M613.7 222.57L666.6 245.64M666.6 245.64L720 268.71M613.7 237.95L666.6 207.19M666.6 207.19L720 237.95M613.7 214.88L666.6 199.5M666.6 199.5L720 214.88M613.7 230.26L666.6 237.95M666.6 237.95L720 245.64M613.7 237.95L666.6 268.71M666.6 268.71L720 245.64M613.7 237.95L666.6 230.26M666.6 230.26L720 207.19M666.6 230.26L720 214.88M666.6 237.95L720 199.5M613.7 214.88L666.6 214.88M666.6 214.88L720 268.71M613.7 268.71L666.6 261.02M666.6 261.02L720 245.64M613.7 253.33L666.6 207.19M666.6 207.19L720 245.64M613.7 230.26L666.6 253.33M666.6 253.33L720 222.57M613.7 184.12L666.6 253.33M666.6 253.33L720 214.88M666.6 214.88L720 276.4M613.7 245.64L666.6 207.19M666.6 207.19L720 207.19M613.7 276.4L666.6 214.88M666.6 214.88L720 261.02M666.6 222.57L720 214.88M613.7 237.95L666.6 222.57M666.6 222.57L720 253.33M613.7 237.95L666.6 237.95M666.6 237.95L720 237.95M613.7 191.81L666.6 207.19M666.6 207.19L720 199.5M613.7 199.5L666.6 230.26M613.7 222.57L666.6 214.88M666.6 214.88L720 222.57M613.7 230.26L666.6 222.57M666.6 222.57L720 222.57M613.7 222.57L666.6 237.95M613.7 199.5L666.6 214.88M666.6 214.88L720 207.19M613.7 214.88L666.6 184.12M666.6 184.12L720 207.19M613.7 214.88L666.6 222.57M666.6 222.57L720 237.95M613.7 245.64L666.6 245.64M666.6 245.64L720 184.12M613.7 199.5L666.6 245.64M666.6 245.64L720 253.33M613.7 207.19L666.6 237.95M666.6 237.95L720 214.88M613.7 207.19L666.6 199.5M613.7 261.02L666.6 245.64M613.7 207.19L666.6 191.81M666.6 191.81L720 222.57M613.7 261.02L666.6 276.4M666.6 276.4L720 230.26M666.6 253.33L720 253.33M666.6 214.88L720 245.64M613.7 253.33L666.6 237.95M613.7 191.81L666.6 230.26M666.6 230.26L720 245.64M666.6 245.64L720 245.64M666.6 222.57L720 261.02" fill="none" stroke="#000" stroke-opacity="0.62" stroke-width="0.3"/>
<path d="M578 161.05V276.4H757" fill="none" stroke="#111" stroke-width="1.15" stroke-linecap="square"/>
<path d="M578 276.4h-3M578 268.71h-1.5M578 261.02h-1.5M578 253.33h-1.5M578 245.64h-1.5M578 237.95h-3M578 230.26h-1.5M578 222.57h-1.5M578 214.88h-1.5M578 207.19h-1.5M578 199.5h-3M578 191.81h-1.5M578 184.12h-1.5M578 176.43h-1.5M578 168.74h-1.5M578 161.05h-3M613.7 276.4v3.15M666.6 276.4v3.15M720 276.4v3.15" fill="none" stroke="#111" stroke-width="0.92"/>
<text transform="translate(574.1 278.68) rotate(.05)" font-size="5.95" class="b" text-anchor="end">0</text>
<text transform="translate(574.1 240.23) rotate(.05)" font-size="5.95" class="b" text-anchor="end">5</text>
<text transform="translate(574.1 201.78) rotate(.05)" font-size="5.95" class="b" text-anchor="end">10</text>
<text transform="translate(574.1 163.33) rotate(.05)" font-size="5.95" class="b" text-anchor="end">15</text>
<text transform="translate(564.18 218.72) rotate(-89.95)" font-size="6.34" text-anchor="middle" class="r">Dimension score</text>
<text transform="translate(613.7 285.84) rotate(.05)" font-size="5.95" text-anchor="middle" class="r">session1</text>
<text transform="translate(666.6 285.84) rotate(.05)" font-size="5.95" text-anchor="middle" class="r">session2</text>
<text transform="translate(720 285.84) rotate(.05)" font-size="5.95" text-anchor="middle" class="r">session3</text>
<text transform="translate(666.9 151) rotate(.05)" font-size="7.47" class="b" text-anchor="middle">Theory of Mind</text>
</g>
<g>
<path d="M49.02 436.7C48.91 435.46 48.5 431.13 48.36 429.28C48.22 427.42 48.33 426.81 48.17 425.57C48.01 424.33 47.83 423.1 47.42 421.86C47.01 420.62 46.58 419.39 45.73 418.15C44.88 416.91 43.42 415.68 42.34 414.44C41.26 413.2 39.96 411.97 39.24 410.73C38.52 409.49 38.13 408.26 38.02 407.02C37.91 405.78 38.08 404.55 38.58 403.31C39.08 402.07 40.34 400.84 41.03 399.6C41.72 398.36 42.28 397.13 42.72 395.89C43.16 394.65 43.31 394.04 43.66 392.18C44 390.32 44.45 387.23 44.79 384.76C45.13 382.29 45.39 379.81 45.73 377.34C46.08 374.87 46.53 372.39 46.86 369.92C47.19 367.45 47.37 364.97 47.7 362.5C48.03 360.03 48.58 357.55 48.83 355.08C49.08 352.61 49.15 348.9 49.21 347.66L58.79 347.66C58.85 348.9 58.92 352.61 59.17 355.08C59.42 357.55 59.97 360.03 60.3 362.5C60.63 364.97 60.81 367.45 61.14 369.92C61.47 372.39 61.92 374.87 62.27 377.34C62.61 379.81 62.87 382.29 63.21 384.76C63.55 387.23 64 390.32 64.34 392.18C64.69 394.04 64.84 394.65 65.28 395.89C65.72 397.13 66.28 398.36 66.97 399.6C67.66 400.84 68.92 402.07 69.42 403.31C69.92 404.55 70.09 405.78 69.98 407.02C69.87 408.26 69.48 409.49 68.76 410.73C68.04 411.97 66.74 413.2 65.66 414.44C64.58 415.68 63.12 416.91 62.27 418.15C61.42 419.39 60.99 420.62 60.58 421.86C60.17 423.1 59.99 424.33 59.83 425.57C59.67 426.81 59.78 427.42 59.64 429.28C59.5 431.13 59.09 435.46 58.98 436.7Z" fill="#c3f4c1" stroke="#111" stroke-width="1.25" stroke-linejoin="round"/>
<path d="M98.3 436.7C97.96 436.08 96.79 434.23 96.26 432.99C95.73 431.75 95.45 430.52 95.1 429.28C94.74 428.04 94.45 426.81 94.13 425.57C93.81 424.33 93.61 423.1 93.16 421.86C92.71 420.62 91.88 419.39 91.41 418.15C90.94 416.91 90.62 415.68 90.35 414.44C90.07 413.2 89.97 411.97 89.76 410.73C89.55 409.49 89.2 408.26 89.09 407.02C88.98 405.78 89.01 404.55 89.09 403.31C89.17 402.07 89.05 400.84 89.57 399.6C90.09 398.36 91.17 397.13 92.19 395.89C93.21 394.65 94.82 393.42 95.68 392.18C96.54 390.94 97.05 389.71 97.33 388.47C97.61 387.23 97.51 386 97.33 384.76C97.15 383.52 96.57 382.29 96.26 381.05C95.95 379.81 95.59 378.58 95.49 377.34C95.39 376.1 95.37 374.87 95.68 373.63C95.99 372.39 96.63 371.16 97.33 369.92C98.03 368.68 99.16 367.45 99.85 366.21C100.54 364.97 101.08 363.74 101.5 362.5C101.92 361.26 102.17 360.03 102.38 358.79C102.59 357.55 102.73 356.94 102.76 355.08C102.79 353.22 102.6 348.9 102.57 347.66L107.03 347.66C107 348.9 106.81 353.22 106.84 355.08C106.87 356.94 107.01 357.55 107.22 358.79C107.43 360.03 107.68 361.26 108.1 362.5C108.52 363.74 109.06 364.97 109.75 366.21C110.44 367.45 111.57 368.68 112.27 369.92C112.97 371.16 113.61 372.39 113.92 373.63C114.23 374.87 114.21 376.1 114.11 377.34C114.01 378.58 113.65 379.81 113.34 381.05C113.03 382.29 112.45 383.52 112.27 384.76C112.09 386 111.99 387.23 112.27 388.47C112.55 389.71 113.06 390.94 113.92 392.18C114.78 393.42 116.39 394.65 117.41 395.89C118.43 397.13 119.51 398.36 120.03 399.6C120.55 400.84 120.43 402.07 120.51 403.31C120.59 404.55 120.62 405.78 120.51 407.02C120.4 408.26 120.05 409.49 119.84 410.73C119.63 411.97 119.53 413.2 119.25 414.44C118.97 415.68 118.66 416.91 118.19 418.15C117.72 419.39 116.89 420.62 116.44 421.86C115.99 423.1 115.79 424.33 115.47 425.57C115.15 426.81 114.86 428.04 114.5 429.28C114.14 430.52 113.87 431.75 113.34 432.99C112.81 434.23 111.64 436.08 111.3 436.7Z" fill="#08ee08" stroke="#111" stroke-width="1.25" stroke-linejoin="round"/>
<path d="M154 436.7C153.73 436.08 152.92 434.23 152.4 432.99C151.88 431.75 151.67 431.13 150.9 429.28C150.13 427.42 148.87 424.33 147.8 421.86C146.73 419.39 145.57 416.91 144.5 414.44C143.43 411.97 142.15 408.88 141.4 407.02C140.65 405.16 140.32 404.55 140 403.31C139.68 402.07 139.22 400.84 139.5 399.6C139.78 398.36 140.78 397.13 141.7 395.89C142.62 394.65 144.22 393.42 145 392.18C145.78 390.94 146.17 389.71 146.4 388.47C146.63 387.23 146.47 386 146.4 384.76C146.33 383.52 146.17 382.29 146 381.05C145.83 379.81 145.33 378.58 145.4 377.34C145.47 376.1 145.78 374.87 146.4 373.63C147.02 372.39 148.17 371.16 149.1 369.92C150.03 368.68 151.08 367.45 152 366.21C152.92 364.97 154.03 363.74 154.6 362.5C155.17 361.26 155.22 360.03 155.4 358.79C155.58 357.55 155.63 356.32 155.65 355.08C155.67 353.84 155.61 352.61 155.5 351.37C155.39 350.13 155.08 348.28 155 347.66L157 347.66C156.92 348.28 156.61 350.13 156.5 351.37C156.39 352.61 156.33 353.84 156.35 355.08C156.37 356.32 156.42 357.55 156.6 358.79C156.78 360.03 156.83 361.26 157.4 362.5C157.97 363.74 159.08 364.97 160 366.21C160.92 367.45 161.97 368.68 162.9 369.92C163.83 371.16 164.98 372.39 165.6 373.63C166.22 374.87 166.53 376.1 166.6 377.34C166.67 378.58 166.17 379.81 166 381.05C165.83 382.29 165.67 383.52 165.6 384.76C165.53 386 165.37 387.23 165.6 388.47C165.83 389.71 166.22 390.94 167 392.18C167.78 393.42 169.38 394.65 170.3 395.89C171.22 397.13 172.22 398.36 172.5 399.6C172.78 400.84 172.32 402.07 172 403.31C171.68 404.55 171.35 405.16 170.6 407.02C169.85 408.88 168.57 411.97 167.5 414.44C166.43 416.91 165.27 419.39 164.2 421.86C163.13 424.33 161.87 427.42 161.1 429.28C160.33 431.13 160.12 431.75 159.6 432.99C159.08 434.23 158.27 436.08 158 436.7Z" fill="#077f07" stroke="#111" stroke-width="1.25" stroke-linejoin="round"/>
<line x1="38.82" y1="407.02" x2="69.18" y2="407.02" stroke="#061406" stroke-width="0.6" stroke-dasharray="0.8 0.9"/>
<line x1="46.53" y1="377.34" x2="61.47" y2="377.34" stroke="#061406" stroke-width="0.6" stroke-dasharray="0.8 0.9"/>
<line x1="41.63" y1="399.6" x2="66.37" y2="399.6" stroke="#4d9fe0" stroke-width="0.65"/>
<line x1="91.15" y1="414.44" x2="118.45" y2="414.44" stroke="#061406" stroke-width="0.6" stroke-dasharray="0.8 0.9"/>
<line x1="98.13" y1="384.76" x2="111.47" y2="384.76" stroke="#061406" stroke-width="0.6" stroke-dasharray="0.8 0.9"/>
<line x1="90.17" y1="399.6" x2="119.43" y2="399.6" stroke="#35a8c0" stroke-width="0.65"/>
<line x1="145.3" y1="414.44" x2="166.7" y2="414.44" stroke="#061406" stroke-width="0.6" stroke-dasharray="0.8 0.9"/>
<line x1="147.2" y1="384.76" x2="164.8" y2="384.76" stroke="#061406" stroke-width="0.6" stroke-dasharray="0.8 0.9"/>
<line x1="140.1" y1="399.6" x2="171.9" y2="399.6" stroke="#b0b6b0" stroke-width="0.8"/>
<path d="M54 384.76L104.8 421.86M104.8 421.86L156 392.18M54 407.02L104.8 377.34M104.8 377.34L156 399.6M54 407.02L104.8 369.92M104.8 369.92L156 407.02M54 414.44L104.8 384.76M104.8 384.76L156 377.34M54 414.44L104.8 407.02M104.8 407.02L156 392.18M54 407.02L104.8 407.02M104.8 407.02L156 407.02M54 355.08L104.8 392.18M104.8 392.18L156 347.66M54 429.28L104.8 384.76M104.8 384.76L156 414.44M104.8 407.02L156 384.76M54 392.18L104.8 399.6M104.8 399.6L156 407.02M104.8 392.18L156 399.6M54 384.76L104.8 407.02M54 436.7L104.8 399.6M54 436.7L104.8 377.34M104.8 377.34L156 384.76M54 384.76L104.8 355.08M104.8 355.08L156 421.86M54 407.02L104.8 399.6M104.8 399.6L156 421.86M54 421.86L104.8 421.86M104.8 421.86L156 399.6M104.8 421.86L156 421.86M54 369.92L104.8 414.44M104.8 414.44L156 421.86M54 399.6L104.8 384.76M104.8 384.76L156 429.28M54 392.18L104.8 414.44M104.8 414.44L156 377.34M104.8 399.6L156 392.18M54 347.66L104.8 362.5M104.8 362.5L156 369.92M54 392.18L104.8 436.7M104.8 436.7L156 421.86M54 384.76L104.8 429.28M104.8 429.28L156 399.6M54 377.34L104.8 399.6M104.8 399.6L156 414.44M54 421.86L104.8 399.6M54 347.66L104.8 377.34M104.8 377.34L156 362.5M54 362.5L104.8 414.44M104.8 414.44L156 414.44M54 369.92L104.8 369.92M104.8 369.92L156 369.92M54 436.7L104.8 407.02M54 414.44L104.8 421.86M104.8 421.86L156 407.02M54 369.92L104.8 347.66M104.8 347.66L156 429.28M54 429.28L104.8 399.6M104.8 399.6L156 377.34M54 399.6L104.8 414.44M104.8 414.44L156 399.6M54 369.92L104.8 407.02M104.8 407.02L156 414.44M54 421.86L104.8 414.44M104.8 436.7L156 377.34M54 399.6L104.8 407.02M104.8 384.76L156 384.76M54 377.34L104.8 429.28M104.8 429.28L156 369.92M104.8 407.02L156 369.92M54 377.34L104.8 392.18M104.8 392.18L156 414.44M104.8 377.34L156 414.44M54 407.02L104.8 362.5M104.8 362.5L156 377.34M54 392.18L104.8 429.28M104.8 429.28L156 407.02M54 407.02L104.8 421.86M104.8 421.86L156 377.34M54 355.08L104.8 369.92M104.8 369.92L156 429.28M54 407.02L104.8 436.7M104.8 436.7L156 407.02M54 429.28L104.8 392.18M104.8 392.18L156 436.7M54 399.6L104.8 429.28M104.8 429.28L156 384.76M54 399.6L104.8 377.34M104.8 377.34L156 392.18M54 407.02L104.8 429.28M54 347.66L104.8 392.18M54 414.44L104.8 369.92M104.8 369.92L156 384.76M104.8 414.44L156 384.76M54 347.66L104.8 347.66M104.8 347.66L156 347.66" fill="none" stroke="#000" stroke-opacity="0.62" stroke-width="0.3"/>
<path d="M19.1 325.4V436.7H186" fill="none" stroke="#111" stroke-width="1.15" stroke-linecap="square"/>
<path d="M19.1 436.7h-3M19.1 429.28h-1.5M19.1 421.86h-1.5M19.1 414.44h-1.5M19.1 407.02h-1.5M19.1 399.6h-3M19.1 392.18h-1.5M19.1 384.76h-1.5M19.1 377.34h-1.5M19.1 369.92h-1.5M19.1 362.5h-3M19.1 355.08h-1.5M19.1 347.66h-1.5M19.1 340.24h-1.5M19.1 332.82h-1.5M19.1 325.4h-3M54 436.7v3.15M104.8 436.7v3.15M156 436.7v3.15" fill="none" stroke="#111" stroke-width="0.92"/>
<text transform="translate(15.2 438.85) rotate(.05)" font-size="5.58" class="b" text-anchor="end">0</text>
<text transform="translate(15.2 401.75) rotate(.05)" font-size="5.58" class="b" text-anchor="end">5</text>
<text transform="translate(15.2 364.65) rotate(.05)" font-size="5.58" class="b" text-anchor="end">10</text>
<text transform="translate(15.2 327.55) rotate(.05)" font-size="5.58" class="b" text-anchor="end">15</text>
<text transform="translate(6 381.05) rotate(-89.95)" font-size="6.12" text-anchor="middle" class="r">Dimension score</text>
<text transform="translate(54 445.71) rotate(.05)" font-size="5.58" text-anchor="middle" class="r">session1</text>
<text transform="translate(104.8 445.71) rotate(.05)" font-size="5.58" text-anchor="middle" class="r">session2</text>
<text transform="translate(156 445.71) rotate(.05)" font-size="5.58" text-anchor="middle" class="r">session3</text>
<text transform="translate(104.9 316) rotate(.05)" font-size="7.19" class="b" text-anchor="middle">Verbal Thought</text>
</g>
<g>
<path d="M241.9 437.25C241.87 436.94 241.67 436.13 241.7 435.38C241.73 434.64 242.02 433.83 242.1 432.77C242.18 431.72 242.28 430.29 242.2 429.04C242.12 427.8 241.78 426.68 241.6 425.31C241.42 423.95 241.22 422.58 241.1 420.84C240.98 419.1 240.92 416.86 240.9 414.87C240.88 412.88 240.9 410.64 241 408.9C241.1 407.16 241.3 405.92 241.5 404.43C241.7 402.93 242.25 401.19 242.2 399.95C242.15 398.71 241.53 398.09 241.2 396.97C240.87 395.85 240.45 394.6 240.2 393.24C239.95 391.87 239.85 390.13 239.7 388.76C239.55 387.39 239.47 386.27 239.3 385.03C239.13 383.79 239.02 382.54 238.7 381.3C238.38 380.06 238.32 378.81 237.4 377.57C236.48 376.33 235 375.08 233.2 373.84C231.4 372.6 227.45 371.35 226.6 370.11C225.75 368.87 227.52 367.62 228.1 366.38C228.68 365.14 229.18 363.89 230.1 362.65C231.02 361.41 232.62 360.16 233.6 358.92C234.58 357.68 236 356.43 236 355.19C236 353.95 234.2 352.7 233.6 351.46C233 350.22 232.6 348.35 232.4 347.73L252.8 347.73C252.6 348.35 252.2 350.22 251.6 351.46C251 352.7 249.2 353.95 249.2 355.19C249.2 356.43 250.62 357.68 251.6 358.92C252.58 360.16 254.18 361.41 255.1 362.65C256.02 363.89 256.52 365.14 257.1 366.38C257.68 367.62 259.45 368.87 258.6 370.11C257.75 371.35 253.8 372.6 252 373.84C250.2 375.08 248.72 376.33 247.8 377.57C246.88 378.81 246.82 380.06 246.5 381.3C246.18 382.54 246.07 383.79 245.9 385.03C245.73 386.27 245.65 387.39 245.5 388.76C245.35 390.13 245.25 391.87 245 393.24C244.75 394.6 244.33 395.85 244 396.97C243.67 398.09 243.05 398.71 243 399.95C242.95 401.19 243.5 402.93 243.7 404.43C243.9 405.92 244.1 407.16 244.2 408.9C244.3 410.64 244.32 412.88 244.3 414.87C244.28 416.86 244.22 419.1 244.1 420.84C243.98 422.58 243.78 423.95 243.6 425.31C243.42 426.68 243.08 427.8 243 429.04C242.92 430.29 243.02 431.72 243.1 432.77C243.18 433.83 243.47 434.64 243.5 435.38C243.53 436.13 243.33 436.94 243.3 437.25Z" fill="#c3f4c1" stroke="#111" stroke-width="1.25" stroke-linejoin="round"/>
<path d="M293.4 422.33C293.35 421.71 293.2 419.84 293.1 418.6C293 417.36 292.88 416.74 292.8 414.87C292.72 413 292.63 409.9 292.6 407.41C292.57 404.92 292.62 402.44 292.6 399.95C292.58 397.46 292.58 394.36 292.5 392.49C292.42 390.62 292.37 390 292.1 388.76C291.83 387.52 291.55 386.27 290.9 385.03C290.25 383.79 289.37 382.54 288.2 381.3C287.03 380.06 285.2 378.81 283.9 377.57C282.6 376.33 281.27 375.08 280.4 373.84C279.53 372.6 278.45 371.35 278.7 370.11C278.95 368.87 280.52 367.62 281.9 366.38C283.28 365.14 285.83 363.89 287 362.65C288.17 361.41 288.85 360.16 288.9 358.92C288.95 357.68 288.02 356.43 287.3 355.19C286.58 353.95 285.28 352.7 284.6 351.46C283.92 350.22 283.43 348.35 283.2 347.73L306.6 347.73C306.37 348.35 305.88 350.22 305.2 351.46C304.52 352.7 303.22 353.95 302.5 355.19C301.78 356.43 300.85 357.68 300.9 358.92C300.95 360.16 301.63 361.41 302.8 362.65C303.97 363.89 306.52 365.14 307.9 366.38C309.28 367.62 310.85 368.87 311.1 370.11C311.35 371.35 310.27 372.6 309.4 373.84C308.53 375.08 307.2 376.33 305.9 377.57C304.6 378.81 302.77 380.06 301.6 381.3C300.43 382.54 299.55 383.79 298.9 385.03C298.25 386.27 297.97 387.52 297.7 388.76C297.43 390 297.38 390.62 297.3 392.49C297.22 394.36 297.22 397.46 297.2 399.95C297.18 402.44 297.23 404.92 297.2 407.41C297.17 409.9 297.08 413 297 414.87C296.92 416.74 296.8 417.36 296.7 418.6C296.6 419.84 296.45 421.71 296.4 422.33Z" fill="#08ee08" stroke="#111" stroke-width="1.25" stroke-linejoin="round"/>
<path d="M347.1 422.33C347.1 421.96 346.98 420.96 347.1 420.09C347.22 419.22 347.68 417.98 347.8 417.11C347.93 416.24 347.85 416.49 347.85 414.87C347.85 413.25 347.91 409.15 347.8 407.41C347.69 405.67 347.62 405.67 347.2 404.43C346.78 403.18 345.83 401.32 345.3 399.95C344.77 398.58 344.5 397.46 344 396.22C343.5 394.98 342.83 393.73 342.3 392.49C341.77 391.25 341.42 390 340.8 388.76C340.18 387.52 339.13 386.27 338.6 385.03C338.07 383.79 338.1 382.54 337.6 381.3C337.1 380.06 336.33 378.81 335.6 377.57C334.87 376.33 334.02 375.08 333.2 373.84C332.38 372.6 330.4 371.35 330.7 370.11C331 368.87 333.75 367.62 335 366.38C336.25 365.14 337.35 363.89 338.2 362.65C339.05 361.41 339.63 360.16 340.1 358.92C340.57 357.68 340.75 356.43 341 355.19C341.25 353.95 341.43 352.7 341.6 351.46C341.77 350.22 341.93 348.35 342 347.73L354 347.73C354.07 348.35 354.23 350.22 354.4 351.46C354.57 352.7 354.75 353.95 355 355.19C355.25 356.43 355.43 357.68 355.9 358.92C356.37 360.16 356.95 361.41 357.8 362.65C358.65 363.89 359.75 365.14 361 366.38C362.25 367.62 365 368.87 365.3 370.11C365.6 371.35 363.62 372.6 362.8 373.84C361.98 375.08 361.13 376.33 360.4 377.57C359.67 378.81 358.9 380.06 358.4 381.3C357.9 382.54 357.93 383.79 357.4 385.03C356.87 386.27 355.82 387.52 355.2 388.76C354.58 390 354.23 391.25 353.7 392.49C353.17 393.73 352.5 394.98 352 396.22C351.5 397.46 351.23 398.58 350.7 399.95C350.17 401.32 349.22 403.18 348.8 404.43C348.38 405.67 348.31 405.67 348.2 407.41C348.09 409.15 348.15 413.25 348.15 414.87C348.15 416.49 348.07 416.24 348.2 417.11C348.32 417.98 348.78 419.22 348.9 420.09C349.02 420.96 348.9 421.96 348.9 422.33Z" fill="#077f07" stroke="#111" stroke-width="1.25" stroke-linejoin="round"/>
<line x1="238.2" y1="377.57" x2="247" y2="377.57" stroke="#061406" stroke-width="0.6" stroke-dasharray="0.8 0.9"/>
<line x1="234.4" y1="358.92" x2="250.8" y2="358.92" stroke="#061406" stroke-width="0.6" stroke-dasharray="0.8 0.9"/>
<line x1="227.2" y1="370.11" x2="258" y2="370.11" stroke="#4d9fe0" stroke-width="0.65"/>
<line x1="284.7" y1="377.57" x2="305.1" y2="377.57" stroke="#061406" stroke-width="0.6" stroke-dasharray="0.8 0.9"/>
<line x1="288.1" y1="355.19" x2="301.7" y2="355.19" stroke="#061406" stroke-width="0.6" stroke-dasharray="0.8 0.9"/>
<line x1="279.3" y1="370.11" x2="310.5" y2="370.11" stroke="#35a8c0" stroke-width="0.65"/>
<line x1="339.4" y1="385.03" x2="356.6" y2="385.03" stroke="#061406" stroke-width="0.6" stroke-dasharray="0.8 0.9"/>
<line x1="339" y1="362.65" x2="357" y2="362.65" stroke="#061406" stroke-width="0.6" stroke-dasharray="0.8 0.9"/>
<line x1="331.3" y1="370.11" x2="364.7" y2="370.11" stroke="#b0b6b0" stroke-width="0.8"/>
<path d="M242.6 370.11L294.9 370.11M294.9 370.11L348 370.11M242.6 370.11L294.9 355.19M294.9 355.19L348 377.57M242.6 385.03L294.9 370.11M294.9 370.11L348 347.73M242.6 362.65L294.9 347.73M294.9 347.73L348 370.11M242.6 370.11L294.9 399.95M294.9 399.95L348 377.57M242.6 355.19L294.9 377.57M294.9 377.57L348 377.57M242.6 347.73L294.9 347.73M242.6 362.65L294.9 370.11M242.6 370.11L294.9 385.03M294.9 385.03L348 399.95M242.6 377.57L294.9 355.19M294.9 347.73L348 362.65M242.6 370.11L294.9 377.57M294.9 377.57L348 385.03M242.6 377.57L294.9 414.87M294.9 414.87L348 377.57M242.6 377.57L294.9 370.11M294.9 370.11L348 355.19M294.9 370.11L348 362.65M294.9 377.57L348 347.73M242.6 355.19L294.9 355.19M294.9 355.19L348 399.95M242.6 422.33L294.9 407.41M294.9 407.41L348 385.03M242.6 392.49L294.9 355.19M242.6 370.11L294.9 407.41M294.9 407.41L348 370.11M242.6 347.73L294.9 392.49M294.9 392.49L348 355.19M242.6 362.65L294.9 362.65M294.9 362.65L348 422.33M242.6 392.49L294.9 347.73M294.9 347.73L348 355.19M242.6 437.25L294.9 355.19M294.9 355.19L348 392.49M294.9 370.11L348 385.03M242.6 385.03L294.9 377.57M294.9 377.57L348 370.11M294.9 347.73L348 347.73M242.6 347.73L294.9 370.11M294.9 362.65L348 362.65M242.6 347.73L294.9 362.65M294.9 362.65L348 377.57M294.9 362.65L348 355.19M294.9 370.11L348 377.57M242.6 385.03L294.9 385.03M294.9 385.03L348 347.73M294.9 392.49L348 392.49M294.9 377.57L348 362.65M242.6 355.19L294.9 347.73M242.6 414.87L294.9 385.03M294.9 385.03L348 377.57M242.6 370.11L294.9 362.65M242.6 414.87L294.9 422.33M294.9 422.33L348 370.11M294.9 399.95L348 392.49M294.9 362.65L348 385.03M242.6 407.41L294.9 377.57M242.6 362.65L294.9 377.57M294.9 370.11L348 392.49" fill="none" stroke="#000" stroke-opacity="0.62" stroke-width="0.3"/>
<path d="M206.9 325.35V437.25H383.7" fill="none" stroke="#111" stroke-width="1.15" stroke-linecap="square"/>
<path d="M206.9 437.25h-3M206.9 429.79h-1.5M206.9 422.33h-1.5M206.9 414.87h-1.5M206.9 407.41h-1.5M206.9 399.95h-3M206.9 392.49h-1.5M206.9 385.03h-1.5M206.9 377.57h-1.5M206.9 370.11h-1.5M206.9 362.65h-3M206.9 355.19h-1.5M206.9 347.73h-1.5M206.9 340.27h-1.5M206.9 332.81h-1.5M206.9 325.35h-3M242.6 437.25v3.15M294.9 437.25v3.15M348 437.25v3.15" fill="none" stroke="#111" stroke-width="0.92"/>
<text transform="translate(203 439.41) rotate(.05)" font-size="5.61" class="b" text-anchor="end">0</text>
<text transform="translate(203 402.11) rotate(.05)" font-size="5.61" class="b" text-anchor="end">5</text>
<text transform="translate(203 364.81) rotate(.05)" font-size="5.61" class="b" text-anchor="end">10</text>
<text transform="translate(203 327.51) rotate(.05)" font-size="5.61" class="b" text-anchor="end">15</text>
<text transform="translate(193.02 381.3) rotate(-89.95)" font-size="6.15" text-anchor="middle" class="r">Dimension score</text>
<text transform="translate(242.6 446.02) rotate(.05)" font-size="5.61" text-anchor="middle" class="r">session1</text>
<text transform="translate(294.9 446.02) rotate(.05)" font-size="5.61" text-anchor="middle" class="r">session2</text>
<text transform="translate(348 446.02) rotate(.05)" font-size="5.61" text-anchor="middle" class="r">session3</text>
<text transform="translate(295.1 315.9) rotate(.05)" font-size="7.38" class="b" text-anchor="middle">Visual Thought</text>
</g>
</svg>
</body>
</html>
